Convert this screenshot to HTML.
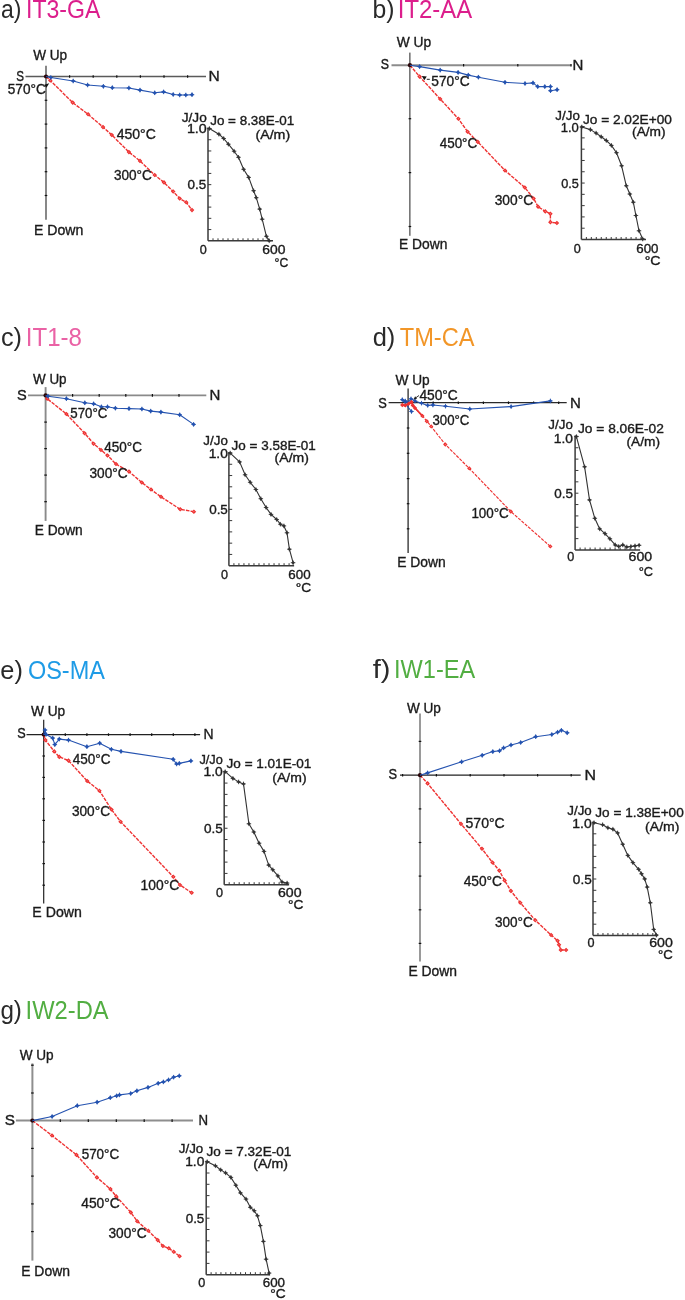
<!DOCTYPE html>
<html><head><meta charset="utf-8"><style>
html,body{margin:0;padding:0;background:#fff;}
svg{display:block;will-change:transform;}
text{font-family:"Liberation Sans",sans-serif;}
</style></head><body>
<svg width="685" height="1300" viewBox="0 0 685 1300">
<rect width="685" height="1300" fill="#fff"/>
<text x="0.93" y="17.5" font-size="25.5" fill="#2a2a2a" textLength="20.4" lengthAdjust="spacingAndGlyphs">a)</text>
<text x="25.97" y="17.5" font-size="25.5" fill="#dc1e8c" textLength="74.37" lengthAdjust="spacingAndGlyphs">IT3-GA</text>
<line x1="25.5" y1="76.5" x2="206" y2="76.5" stroke="#5a5a5a" stroke-width="1.5"/>
<line x1="46" y1="65.7" x2="46" y2="219.7" stroke="#6a6a6a" stroke-width="1.6"/>
<line x1="69.6" y1="75.2" x2="69.6" y2="77.8" stroke="#111" stroke-width="1.2"/>
<line x1="93.2" y1="75.2" x2="93.2" y2="77.8" stroke="#111" stroke-width="1.2"/>
<line x1="116.8" y1="75.2" x2="116.8" y2="77.8" stroke="#111" stroke-width="1.2"/>
<line x1="140.4" y1="75.2" x2="140.4" y2="77.8" stroke="#111" stroke-width="1.2"/>
<line x1="164" y1="75.2" x2="164" y2="77.8" stroke="#111" stroke-width="1.2"/>
<line x1="187.6" y1="75.2" x2="187.6" y2="77.8" stroke="#111" stroke-width="1.2"/>
<line x1="44.7" y1="100.3" x2="47.3" y2="100.3" stroke="#111" stroke-width="1.2"/>
<line x1="44.7" y1="124.1" x2="47.3" y2="124.1" stroke="#111" stroke-width="1.2"/>
<line x1="44.7" y1="147.9" x2="47.3" y2="147.9" stroke="#111" stroke-width="1.2"/>
<line x1="44.7" y1="171.7" x2="47.3" y2="171.7" stroke="#111" stroke-width="1.2"/>
<line x1="44.7" y1="195.5" x2="47.3" y2="195.5" stroke="#111" stroke-width="1.2"/>
<text x="33.14" y="60.4" font-size="14" fill="#1a1a1a" textLength="33.93" lengthAdjust="spacingAndGlyphs" stroke="#1a1a1a" stroke-width="0.35">W Up</text>
<text x="16.37" y="81" font-size="14" fill="#1a1a1a" textLength="7.76" lengthAdjust="spacingAndGlyphs" stroke="#1a1a1a" stroke-width="0.35">S</text>
<text x="208.62" y="81.4" font-size="14" fill="#1a1a1a" textLength="11.25" lengthAdjust="spacingAndGlyphs" stroke="#1a1a1a" stroke-width="0.35">N</text>
<text x="33.94" y="235" font-size="14" fill="#1a1a1a" textLength="49.37" lengthAdjust="spacingAndGlyphs" stroke="#1a1a1a" stroke-width="0.35">E Down</text>
<polyline points="46,76.5 50.3,80.5 72.7,102.6 88.1,114.3 103,127.1 111.8,135 128.9,152.1 140,160.9 154.7,175 164,182.4 173.2,191.5 179.7,198.5 186.2,202.2 192,210.1" fill="none" stroke="#ee3232" stroke-width="1.4" stroke-linejoin="round" stroke-dasharray="3.6 1.1"/>
<path d="M50.3 78.2l2.3 2.3l-2.3 2.3l-2.3 -2.3zM72.7 100.3l2.3 2.3l-2.3 2.3l-2.3 -2.3zM88.1 112l2.3 2.3l-2.3 2.3l-2.3 -2.3zM103 124.8l2.3 2.3l-2.3 2.3l-2.3 -2.3zM111.8 132.7l2.3 2.3l-2.3 2.3l-2.3 -2.3zM128.9 149.8l2.3 2.3l-2.3 2.3l-2.3 -2.3zM140 158.6l2.3 2.3l-2.3 2.3l-2.3 -2.3zM154.7 172.7l2.3 2.3l-2.3 2.3l-2.3 -2.3zM164 180.1l2.3 2.3l-2.3 2.3l-2.3 -2.3zM173.2 189.2l2.3 2.3l-2.3 2.3l-2.3 -2.3zM179.7 196.2l2.3 2.3l-2.3 2.3l-2.3 -2.3zM186.2 199.9l2.3 2.3l-2.3 2.3l-2.3 -2.3zM192 207.8l2.3 2.3l-2.3 2.3l-2.3 -2.3z" fill="#ee3232"/>
<path d="M50.3 79.9l0.6 0.6l-0.6 0.6l-0.6 -0.6zM72.7 102l0.6 0.6l-0.6 0.6l-0.6 -0.6zM88.1 113.7l0.6 0.6l-0.6 0.6l-0.6 -0.6zM103 126.5l0.6 0.6l-0.6 0.6l-0.6 -0.6zM111.8 134.4l0.6 0.6l-0.6 0.6l-0.6 -0.6zM128.9 151.5l0.6 0.6l-0.6 0.6l-0.6 -0.6zM140 160.3l0.6 0.6l-0.6 0.6l-0.6 -0.6zM154.7 174.4l0.6 0.6l-0.6 0.6l-0.6 -0.6zM164 181.8l0.6 0.6l-0.6 0.6l-0.6 -0.6zM173.2 190.9l0.6 0.6l-0.6 0.6l-0.6 -0.6zM179.7 197.9l0.6 0.6l-0.6 0.6l-0.6 -0.6zM186.2 201.6l0.6 0.6l-0.6 0.6l-0.6 -0.6zM192 209.5l0.6 0.6l-0.6 0.6l-0.6 -0.6z" fill="#f59a9a"/>
<circle cx="46" cy="76.5" r="2.1" fill="#2a0508"/>
<polyline points="46,76.5 50.8,77.5 73.2,81 87.6,85 103.4,86.3 112.3,87.7 128.9,88 140,90.1 154.7,92.8 163.6,91.9 173.2,94.5 179.7,95 185.8,95 192,94.7" fill="none" stroke="#2553b0" stroke-width="1.1" stroke-linejoin="round"/>
<path d="M50.8 75.4l2.1 2.1l-2.1 2.1l-2.1 -2.1zM73.2 78.9l2.1 2.1l-2.1 2.1l-2.1 -2.1zM87.6 82.9l2.1 2.1l-2.1 2.1l-2.1 -2.1zM103.4 84.2l2.1 2.1l-2.1 2.1l-2.1 -2.1zM112.3 85.6l2.1 2.1l-2.1 2.1l-2.1 -2.1zM128.9 85.9l2.1 2.1l-2.1 2.1l-2.1 -2.1zM140 88l2.1 2.1l-2.1 2.1l-2.1 -2.1zM154.7 90.7l2.1 2.1l-2.1 2.1l-2.1 -2.1zM163.6 89.8l2.1 2.1l-2.1 2.1l-2.1 -2.1zM173.2 92.4l2.1 2.1l-2.1 2.1l-2.1 -2.1zM179.7 92.9l2.1 2.1l-2.1 2.1l-2.1 -2.1zM185.8 92.9l2.1 2.1l-2.1 2.1l-2.1 -2.1zM192 92.6l2.1 2.1l-2.1 2.1l-2.1 -2.1z" fill="#2553b0"/>
<path d="M48.5 77.5h4.6M50.8 75.2v4.6M70.9 81h4.6M73.2 78.7v4.6M85.3 85h4.6M87.6 82.7v4.6M101.1 86.3h4.6M103.4 84v4.6M110 87.7h4.6M112.3 85.4v4.6M126.6 88h4.6M128.9 85.7v4.6M137.7 90.1h4.6M140 87.8v4.6M152.4 92.8h4.6M154.7 90.5v4.6M161.3 91.9h4.6M163.6 89.6v4.6M170.9 94.5h4.6M173.2 92.2v4.6M177.4 95h4.6M179.7 92.7v4.6M183.5 95h4.6M185.8 92.7v4.6M189.7 94.7h4.6M192 92.4v4.6" stroke="#2553b0" stroke-width="0.8" fill="none"/>
<text x="7.76" y="93.62" font-size="14" fill="#1a1a1a" textLength="37.96" lengthAdjust="spacingAndGlyphs" stroke="#1a1a1a" stroke-width="0.35">570°C</text>
<path d="M44.4 84.8L49.2 83.2L46.4 87.8Z" fill="#111"/>
<text x="116.68" y="139.32" font-size="14" fill="#1a1a1a" textLength="39.16" lengthAdjust="spacingAndGlyphs" stroke="#1a1a1a" stroke-width="0.35">450°C</text>
<text x="113.88" y="180.42" font-size="14" fill="#1a1a1a" textLength="37.94" lengthAdjust="spacingAndGlyphs" stroke="#1a1a1a" stroke-width="0.35">300°C</text>
<line x1="208" y1="127.5" x2="208" y2="240.8" stroke="#3a3a3a" stroke-width="1.5"/>
<line x1="208" y1="240.8" x2="273" y2="240.8" stroke="#3a3a3a" stroke-width="1.5"/>
<line x1="208" y1="229.57" x2="211.3" y2="229.57" stroke="#3a3a3a" stroke-width="1"/>
<line x1="208" y1="218.34" x2="211.3" y2="218.34" stroke="#3a3a3a" stroke-width="1"/>
<line x1="208" y1="207.11" x2="211.3" y2="207.11" stroke="#3a3a3a" stroke-width="1"/>
<line x1="208" y1="195.88" x2="211.3" y2="195.88" stroke="#3a3a3a" stroke-width="1"/>
<line x1="208" y1="184.65" x2="211.3" y2="184.65" stroke="#3a3a3a" stroke-width="1"/>
<line x1="208" y1="173.42" x2="211.3" y2="173.42" stroke="#3a3a3a" stroke-width="1"/>
<line x1="208" y1="162.19" x2="211.3" y2="162.19" stroke="#3a3a3a" stroke-width="1"/>
<line x1="208" y1="150.96" x2="211.3" y2="150.96" stroke="#3a3a3a" stroke-width="1"/>
<line x1="208" y1="139.73" x2="211.3" y2="139.73" stroke="#3a3a3a" stroke-width="1"/>
<line x1="208" y1="128.5" x2="211.3" y2="128.5" stroke="#3a3a3a" stroke-width="1"/>
<line x1="213" y1="240.8" x2="213" y2="238.3" stroke="#3a3a3a" stroke-width="1"/>
<line x1="218" y1="240.8" x2="218" y2="238.3" stroke="#3a3a3a" stroke-width="1"/>
<line x1="223" y1="240.8" x2="223" y2="238.3" stroke="#3a3a3a" stroke-width="1"/>
<line x1="228" y1="240.8" x2="228" y2="238.3" stroke="#3a3a3a" stroke-width="1"/>
<line x1="233" y1="240.8" x2="233" y2="238.3" stroke="#3a3a3a" stroke-width="1"/>
<line x1="238" y1="240.8" x2="238" y2="238.3" stroke="#3a3a3a" stroke-width="1"/>
<line x1="243" y1="240.8" x2="243" y2="238.3" stroke="#3a3a3a" stroke-width="1"/>
<line x1="248" y1="240.8" x2="248" y2="238.3" stroke="#3a3a3a" stroke-width="1"/>
<line x1="253" y1="240.8" x2="253" y2="238.3" stroke="#3a3a3a" stroke-width="1"/>
<line x1="258" y1="240.8" x2="258" y2="238.3" stroke="#3a3a3a" stroke-width="1"/>
<line x1="263" y1="240.8" x2="263" y2="238.3" stroke="#3a3a3a" stroke-width="1"/>
<line x1="268" y1="240.8" x2="268" y2="238.3" stroke="#3a3a3a" stroke-width="1"/>
<polyline points="209.4,128.5 218.9,134.2 223.7,138.5 228.4,144.2 234.1,151.2 238.5,157.3 243.6,169.3 248.7,177.4 253.6,190.7 256.3,197.7 259.7,209.1 262.2,219.2 266.4,236.3 269.2,240.8" fill="none" stroke="#333333" stroke-width="1.1" stroke-linejoin="round"/>
<path d="M209.4 126.7l1.8 1.8l-1.8 1.8l-1.8 -1.8zM218.9 132.4l1.8 1.8l-1.8 1.8l-1.8 -1.8zM223.7 136.7l1.8 1.8l-1.8 1.8l-1.8 -1.8zM228.4 142.4l1.8 1.8l-1.8 1.8l-1.8 -1.8zM234.1 149.4l1.8 1.8l-1.8 1.8l-1.8 -1.8zM238.5 155.5l1.8 1.8l-1.8 1.8l-1.8 -1.8zM243.6 167.5l1.8 1.8l-1.8 1.8l-1.8 -1.8zM248.7 175.6l1.8 1.8l-1.8 1.8l-1.8 -1.8zM253.6 188.9l1.8 1.8l-1.8 1.8l-1.8 -1.8zM256.3 195.9l1.8 1.8l-1.8 1.8l-1.8 -1.8zM259.7 207.3l1.8 1.8l-1.8 1.8l-1.8 -1.8zM262.2 217.4l1.8 1.8l-1.8 1.8l-1.8 -1.8zM266.4 234.5l1.8 1.8l-1.8 1.8l-1.8 -1.8zM269.2 239l1.8 1.8l-1.8 1.8l-1.8 -1.8z" fill="#333333"/>
<path d="M207.1 128.5h4.6M209.4 126.2v4.6M216.6 134.2h4.6M218.9 131.9v4.6M221.4 138.5h4.6M223.7 136.2v4.6M226.1 144.2h4.6M228.4 141.9v4.6M231.8 151.2h4.6M234.1 148.9v4.6M236.2 157.3h4.6M238.5 155v4.6M241.3 169.3h4.6M243.6 167v4.6M246.4 177.4h4.6M248.7 175.1v4.6M251.3 190.7h4.6M253.6 188.4v4.6M254 197.7h4.6M256.3 195.4v4.6M257.4 209.1h4.6M259.7 206.8v4.6M259.9 219.2h4.6M262.2 216.9v4.6M264.1 236.3h4.6M266.4 234v4.6M266.9 240.8h4.6M269.2 238.5v4.6" stroke="#333333" stroke-width="0.8" fill="none"/>
<text x="181.69" y="121.83" font-size="12.6" fill="#1a1a1a" textLength="25.09" lengthAdjust="spacingAndGlyphs" stroke="#1a1a1a" stroke-width="0.35">J/Jo</text>
<text x="210.19" y="125.33" font-size="12.6" fill="#1a1a1a" textLength="83.97" lengthAdjust="spacingAndGlyphs" stroke="#1a1a1a" stroke-width="0.35">Jo = 8.38E-01</text>
<text x="255.42" y="139.43" font-size="12.6" fill="#1a1a1a" textLength="34.76" lengthAdjust="spacingAndGlyphs" stroke="#1a1a1a" stroke-width="0.35">(A/m)</text>
<text x="186.91" y="132.83" font-size="12.6" fill="#1a1a1a" textLength="19.85" lengthAdjust="spacingAndGlyphs" stroke="#1a1a1a" stroke-width="0.35">1.0</text>
<text x="187.47" y="189.33" font-size="12.6" fill="#1a1a1a" textLength="18.69" lengthAdjust="spacingAndGlyphs" stroke="#1a1a1a" stroke-width="0.35">0.5</text>
<text x="199.7" y="254.33" font-size="12.6" fill="#1a1a1a" stroke="#1a1a1a" stroke-width="0.35">0</text>
<text x="262.3" y="254.33" font-size="12.6" fill="#1a1a1a" textLength="23.15" lengthAdjust="spacingAndGlyphs" stroke="#1a1a1a" stroke-width="0.35">600</text>
<text x="274.57" y="266.63" font-size="12.6" fill="#1a1a1a" textLength="13.69" lengthAdjust="spacingAndGlyphs" stroke="#1a1a1a" stroke-width="0.35">°C</text>
<text x="372.5" y="17.5" font-size="25.5" fill="#2a2a2a" textLength="22.03" lengthAdjust="spacingAndGlyphs">b)</text>
<text x="397.79" y="17.5" font-size="25.5" fill="#dc1e8c" textLength="74.45" lengthAdjust="spacingAndGlyphs">IT2-AA</text>
<line x1="391.5" y1="65.2" x2="571.4" y2="65.2" stroke="#8c8c8c" stroke-width="1.9"/>
<line x1="409.9" y1="52.6" x2="409.9" y2="235.8" stroke="#222" stroke-width="1"/>
<line x1="463.6" y1="63.9" x2="463.6" y2="66.5" stroke="#111" stroke-width="1.2"/>
<line x1="517.8" y1="63.9" x2="517.8" y2="66.5" stroke="#111" stroke-width="1.2"/>
<line x1="571" y1="63.9" x2="571" y2="66.5" stroke="#111" stroke-width="1.2"/>
<line x1="408.6" y1="118.7" x2="411.2" y2="118.7" stroke="#111" stroke-width="1.2"/>
<line x1="408.6" y1="172.6" x2="411.2" y2="172.6" stroke="#111" stroke-width="1.2"/>
<line x1="408.6" y1="226.5" x2="411.2" y2="226.5" stroke="#111" stroke-width="1.2"/>
<text x="396.74" y="47" font-size="14" fill="#1a1a1a" textLength="34.44" lengthAdjust="spacingAndGlyphs" stroke="#1a1a1a" stroke-width="0.35">W Up</text>
<text x="380.84" y="69.2" font-size="14" fill="#1a1a1a" textLength="8.23" lengthAdjust="spacingAndGlyphs" stroke="#1a1a1a" stroke-width="0.35">S</text>
<text x="572.57" y="69.7" font-size="14" fill="#1a1a1a" textLength="10.86" lengthAdjust="spacingAndGlyphs" stroke="#1a1a1a" stroke-width="0.35">N</text>
<text x="398.97" y="248.5" font-size="14" fill="#1a1a1a" textLength="48.43" lengthAdjust="spacingAndGlyphs" stroke="#1a1a1a" stroke-width="0.35">E Down</text>
<polyline points="409.9,65.2 419.6,76.6 440.2,99 458.4,118.8 467.6,131.7 477.8,141.9 505,170.5 524.8,187.5 533.6,198.5 538.1,206.7 545.3,211.4 550.4,213.8 550.4,222.2 556.9,223" fill="none" stroke="#ee3232" stroke-width="1.4" stroke-linejoin="round" stroke-dasharray="3.6 1.1"/>
<path d="M419.6 74.3l2.3 2.3l-2.3 2.3l-2.3 -2.3zM440.2 96.7l2.3 2.3l-2.3 2.3l-2.3 -2.3zM458.4 116.5l2.3 2.3l-2.3 2.3l-2.3 -2.3zM467.6 129.4l2.3 2.3l-2.3 2.3l-2.3 -2.3zM477.8 139.6l2.3 2.3l-2.3 2.3l-2.3 -2.3zM505 168.2l2.3 2.3l-2.3 2.3l-2.3 -2.3zM524.8 185.2l2.3 2.3l-2.3 2.3l-2.3 -2.3zM533.6 196.2l2.3 2.3l-2.3 2.3l-2.3 -2.3zM538.1 204.4l2.3 2.3l-2.3 2.3l-2.3 -2.3zM545.3 209.1l2.3 2.3l-2.3 2.3l-2.3 -2.3zM550.4 211.5l2.3 2.3l-2.3 2.3l-2.3 -2.3zM550.4 219.9l2.3 2.3l-2.3 2.3l-2.3 -2.3zM556.9 220.7l2.3 2.3l-2.3 2.3l-2.3 -2.3z" fill="#ee3232"/>
<path d="M419.6 76l0.6 0.6l-0.6 0.6l-0.6 -0.6zM440.2 98.4l0.6 0.6l-0.6 0.6l-0.6 -0.6zM458.4 118.2l0.6 0.6l-0.6 0.6l-0.6 -0.6zM467.6 131.1l0.6 0.6l-0.6 0.6l-0.6 -0.6zM477.8 141.3l0.6 0.6l-0.6 0.6l-0.6 -0.6zM505 169.9l0.6 0.6l-0.6 0.6l-0.6 -0.6zM524.8 186.9l0.6 0.6l-0.6 0.6l-0.6 -0.6zM533.6 197.9l0.6 0.6l-0.6 0.6l-0.6 -0.6zM538.1 206.1l0.6 0.6l-0.6 0.6l-0.6 -0.6zM545.3 210.8l0.6 0.6l-0.6 0.6l-0.6 -0.6zM550.4 213.2l0.6 0.6l-0.6 0.6l-0.6 -0.6zM550.4 221.6l0.6 0.6l-0.6 0.6l-0.6 -0.6zM556.9 222.4l0.6 0.6l-0.6 0.6l-0.6 -0.6z" fill="#f59a9a"/>
<circle cx="409.9" cy="65.2" r="2.1" fill="#2a0508"/>
<polyline points="409.9,65.2 419.6,66.6 440.2,70.1 458.1,72.4 468.3,75.1 478.4,77.2 505,82.3 525,83.5 533,82.9 537.7,86.6 544.8,86.6 550.5,86.6 550.5,90.7 557.1,89.7" fill="none" stroke="#2553b0" stroke-width="1.1" stroke-linejoin="round"/>
<path d="M419.6 64.5l2.1 2.1l-2.1 2.1l-2.1 -2.1zM440.2 68l2.1 2.1l-2.1 2.1l-2.1 -2.1zM458.1 70.3l2.1 2.1l-2.1 2.1l-2.1 -2.1zM468.3 73l2.1 2.1l-2.1 2.1l-2.1 -2.1zM478.4 75.1l2.1 2.1l-2.1 2.1l-2.1 -2.1zM505 80.2l2.1 2.1l-2.1 2.1l-2.1 -2.1zM525 81.4l2.1 2.1l-2.1 2.1l-2.1 -2.1zM533 80.8l2.1 2.1l-2.1 2.1l-2.1 -2.1zM537.7 84.5l2.1 2.1l-2.1 2.1l-2.1 -2.1zM544.8 84.5l2.1 2.1l-2.1 2.1l-2.1 -2.1zM550.5 84.5l2.1 2.1l-2.1 2.1l-2.1 -2.1zM550.5 88.6l2.1 2.1l-2.1 2.1l-2.1 -2.1zM557.1 87.6l2.1 2.1l-2.1 2.1l-2.1 -2.1z" fill="#2553b0"/>
<path d="M417.3 66.6h4.6M419.6 64.3v4.6M437.9 70.1h4.6M440.2 67.8v4.6M455.8 72.4h4.6M458.1 70.1v4.6M466 75.1h4.6M468.3 72.8v4.6M476.1 77.2h4.6M478.4 74.9v4.6M502.7 82.3h4.6M505 80v4.6M522.7 83.5h4.6M525 81.2v4.6M530.7 82.9h4.6M533 80.6v4.6M535.4 86.6h4.6M537.7 84.3v4.6M542.5 86.6h4.6M544.8 84.3v4.6M548.2 86.6h4.6M550.5 84.3v4.6M548.2 90.7h4.6M550.5 88.4v4.6M554.8 89.7h4.6M557.1 87.4v4.6" stroke="#2553b0" stroke-width="0.8" fill="none"/>
<text x="431.25" y="85.52" font-size="14" fill="#1a1a1a" textLength="38.37" lengthAdjust="spacingAndGlyphs" stroke="#1a1a1a" stroke-width="0.35">570°C</text>
<path d="M421.8 76.1L426.8 76.6L424.3 80.2Z" fill="#111"/>
<line x1="426.8" y1="79.3" x2="429.8" y2="79.3" stroke="#222" stroke-width="1"/>
<text x="439.69" y="148.32" font-size="14" fill="#1a1a1a" textLength="37.52" lengthAdjust="spacingAndGlyphs" stroke="#1a1a1a" stroke-width="0.35">450°C</text>
<text x="494.68" y="204.92" font-size="14" fill="#1a1a1a" textLength="38.45" lengthAdjust="spacingAndGlyphs" stroke="#1a1a1a" stroke-width="0.35">300°C</text>
<line x1="581.4" y1="125.6" x2="581.4" y2="239.5" stroke="#3a3a3a" stroke-width="1.5"/>
<line x1="581.4" y1="239.5" x2="646" y2="239.5" stroke="#3a3a3a" stroke-width="1.5"/>
<line x1="581.4" y1="228.21" x2="584.7" y2="228.21" stroke="#3a3a3a" stroke-width="1"/>
<line x1="581.4" y1="216.92" x2="584.7" y2="216.92" stroke="#3a3a3a" stroke-width="1"/>
<line x1="581.4" y1="205.63" x2="584.7" y2="205.63" stroke="#3a3a3a" stroke-width="1"/>
<line x1="581.4" y1="194.34" x2="584.7" y2="194.34" stroke="#3a3a3a" stroke-width="1"/>
<line x1="581.4" y1="183.05" x2="584.7" y2="183.05" stroke="#3a3a3a" stroke-width="1"/>
<line x1="581.4" y1="171.76" x2="584.7" y2="171.76" stroke="#3a3a3a" stroke-width="1"/>
<line x1="581.4" y1="160.47" x2="584.7" y2="160.47" stroke="#3a3a3a" stroke-width="1"/>
<line x1="581.4" y1="149.18" x2="584.7" y2="149.18" stroke="#3a3a3a" stroke-width="1"/>
<line x1="581.4" y1="137.89" x2="584.7" y2="137.89" stroke="#3a3a3a" stroke-width="1"/>
<line x1="581.4" y1="126.6" x2="584.7" y2="126.6" stroke="#3a3a3a" stroke-width="1"/>
<line x1="586.37" y1="239.5" x2="586.37" y2="237" stroke="#3a3a3a" stroke-width="1"/>
<line x1="591.34" y1="239.5" x2="591.34" y2="237" stroke="#3a3a3a" stroke-width="1"/>
<line x1="596.31" y1="239.5" x2="596.31" y2="237" stroke="#3a3a3a" stroke-width="1"/>
<line x1="601.28" y1="239.5" x2="601.28" y2="237" stroke="#3a3a3a" stroke-width="1"/>
<line x1="606.25" y1="239.5" x2="606.25" y2="237" stroke="#3a3a3a" stroke-width="1"/>
<line x1="611.22" y1="239.5" x2="611.22" y2="237" stroke="#3a3a3a" stroke-width="1"/>
<line x1="616.18" y1="239.5" x2="616.18" y2="237" stroke="#3a3a3a" stroke-width="1"/>
<line x1="621.15" y1="239.5" x2="621.15" y2="237" stroke="#3a3a3a" stroke-width="1"/>
<line x1="626.12" y1="239.5" x2="626.12" y2="237" stroke="#3a3a3a" stroke-width="1"/>
<line x1="631.09" y1="239.5" x2="631.09" y2="237" stroke="#3a3a3a" stroke-width="1"/>
<line x1="636.06" y1="239.5" x2="636.06" y2="237" stroke="#3a3a3a" stroke-width="1"/>
<line x1="641.03" y1="239.5" x2="641.03" y2="237" stroke="#3a3a3a" stroke-width="1"/>
<polyline points="581.8,127 590.4,129.6 596.1,133.1 601.2,136.8 606.3,140.5 611.4,145.4 616.5,152.7 621.6,165.8 626.3,185.8 629.8,194 633.3,202.2 635.9,215.5 639,230.8 642.7,239" fill="none" stroke="#333333" stroke-width="1.1" stroke-linejoin="round"/>
<path d="M581.8 125.2l1.8 1.8l-1.8 1.8l-1.8 -1.8zM590.4 127.8l1.8 1.8l-1.8 1.8l-1.8 -1.8zM596.1 131.3l1.8 1.8l-1.8 1.8l-1.8 -1.8zM601.2 135l1.8 1.8l-1.8 1.8l-1.8 -1.8zM606.3 138.7l1.8 1.8l-1.8 1.8l-1.8 -1.8zM611.4 143.6l1.8 1.8l-1.8 1.8l-1.8 -1.8zM616.5 150.9l1.8 1.8l-1.8 1.8l-1.8 -1.8zM621.6 164l1.8 1.8l-1.8 1.8l-1.8 -1.8zM626.3 184l1.8 1.8l-1.8 1.8l-1.8 -1.8zM629.8 192.2l1.8 1.8l-1.8 1.8l-1.8 -1.8zM633.3 200.4l1.8 1.8l-1.8 1.8l-1.8 -1.8zM635.9 213.7l1.8 1.8l-1.8 1.8l-1.8 -1.8zM639 229l1.8 1.8l-1.8 1.8l-1.8 -1.8zM642.7 237.2l1.8 1.8l-1.8 1.8l-1.8 -1.8z" fill="#333333"/>
<path d="M579.5 127h4.6M581.8 124.7v4.6M588.1 129.6h4.6M590.4 127.3v4.6M593.8 133.1h4.6M596.1 130.8v4.6M598.9 136.8h4.6M601.2 134.5v4.6M604 140.5h4.6M606.3 138.2v4.6M609.1 145.4h4.6M611.4 143.1v4.6M614.2 152.7h4.6M616.5 150.4v4.6M619.3 165.8h4.6M621.6 163.5v4.6M624 185.8h4.6M626.3 183.5v4.6M627.5 194h4.6M629.8 191.7v4.6M631 202.2h4.6M633.3 199.9v4.6M633.6 215.5h4.6M635.9 213.2v4.6M636.7 230.8h4.6M639 228.5v4.6M640.4 239h4.6M642.7 236.7v4.6" stroke="#333333" stroke-width="0.8" fill="none"/>
<text x="555.39" y="119.63" font-size="12.6" fill="#1a1a1a" textLength="24.47" lengthAdjust="spacingAndGlyphs" stroke="#1a1a1a" stroke-width="0.35">J/Jo</text>
<text x="582.99" y="124.13" font-size="12.6" fill="#1a1a1a" textLength="88.85" lengthAdjust="spacingAndGlyphs" stroke="#1a1a1a" stroke-width="0.35">Jo = 2.02E+00</text>
<text x="632.05" y="136.03" font-size="12.6" fill="#1a1a1a" textLength="33.61" lengthAdjust="spacingAndGlyphs" stroke="#1a1a1a" stroke-width="0.35">(A/m)</text>
<text x="560.71" y="131.93" font-size="12.6" fill="#1a1a1a" textLength="18.1" lengthAdjust="spacingAndGlyphs" stroke="#1a1a1a" stroke-width="0.35">1.0</text>
<text x="561.2" y="187.73" font-size="12.6" fill="#1a1a1a" textLength="17.63" lengthAdjust="spacingAndGlyphs" stroke="#1a1a1a" stroke-width="0.35">0.5</text>
<text x="573.8" y="252.53" font-size="12.6" fill="#1a1a1a" stroke="#1a1a1a" stroke-width="0.35">0</text>
<text x="636.32" y="252.53" font-size="12.6" fill="#1a1a1a" textLength="22.2" lengthAdjust="spacingAndGlyphs" stroke="#1a1a1a" stroke-width="0.35">600</text>
<text x="644.65" y="264.73" font-size="12.6" fill="#1a1a1a" textLength="15.99" lengthAdjust="spacingAndGlyphs" stroke="#1a1a1a" stroke-width="0.35">°C</text>
<text x="0.93" y="345.5" font-size="25.5" fill="#2a2a2a" textLength="21.04" lengthAdjust="spacingAndGlyphs">c)</text>
<text x="25.78" y="345.5" font-size="25.5" fill="#ea62a5" textLength="56.17" lengthAdjust="spacingAndGlyphs">IT1-8</text>
<line x1="28" y1="395.4" x2="206.3" y2="395.4" stroke="#8a8a8a" stroke-width="1.9"/>
<line x1="45.6" y1="387.1" x2="45.6" y2="520.9" stroke="#8a8a8a" stroke-width="1.9"/>
<line x1="72.6" y1="394.1" x2="72.6" y2="396.7" stroke="#111" stroke-width="1.2"/>
<line x1="99.2" y1="394.1" x2="99.2" y2="396.7" stroke="#111" stroke-width="1.2"/>
<line x1="125.8" y1="394.1" x2="125.8" y2="396.7" stroke="#111" stroke-width="1.2"/>
<line x1="152.4" y1="394.1" x2="152.4" y2="396.7" stroke="#111" stroke-width="1.2"/>
<line x1="179" y1="394.1" x2="179" y2="396.7" stroke="#111" stroke-width="1.2"/>
<line x1="44.3" y1="422.1" x2="46.9" y2="422.1" stroke="#111" stroke-width="1.2"/>
<line x1="44.3" y1="448.6" x2="46.9" y2="448.6" stroke="#111" stroke-width="1.2"/>
<line x1="44.3" y1="475.1" x2="46.9" y2="475.1" stroke="#111" stroke-width="1.2"/>
<line x1="44.3" y1="501.7" x2="46.9" y2="501.7" stroke="#111" stroke-width="1.2"/>
<text x="33.04" y="383.8" font-size="14" fill="#1a1a1a" textLength="33.52" lengthAdjust="spacingAndGlyphs" stroke="#1a1a1a" stroke-width="0.35">W Up</text>
<text x="17.14" y="400.3" font-size="14" fill="#1a1a1a" textLength="9.73" lengthAdjust="spacingAndGlyphs" stroke="#1a1a1a" stroke-width="0.35">S</text>
<text x="209.57" y="400.1" font-size="14" fill="#1a1a1a" textLength="10.86" lengthAdjust="spacingAndGlyphs" stroke="#1a1a1a" stroke-width="0.35">N</text>
<text x="34.68" y="534.8" font-size="14" fill="#1a1a1a" textLength="48.02" lengthAdjust="spacingAndGlyphs" stroke="#1a1a1a" stroke-width="0.35">E Down</text>
<polyline points="45.6,395.4 47.2,398.7 66.4,414 84.6,433.2 93.6,443.7 101,450 107.5,455.5 116,464 129,471.6 141.8,482.5 151,489.5 161,496.8 180.2,509.3 193.9,511.7" fill="none" stroke="#ee3232" stroke-width="1.4" stroke-linejoin="round" stroke-dasharray="3.6 1.1"/>
<path d="M47.2 396.4l2.3 2.3l-2.3 2.3l-2.3 -2.3zM66.4 411.7l2.3 2.3l-2.3 2.3l-2.3 -2.3zM84.6 430.9l2.3 2.3l-2.3 2.3l-2.3 -2.3zM93.6 441.4l2.3 2.3l-2.3 2.3l-2.3 -2.3zM101 447.7l2.3 2.3l-2.3 2.3l-2.3 -2.3zM107.5 453.2l2.3 2.3l-2.3 2.3l-2.3 -2.3zM116 461.7l2.3 2.3l-2.3 2.3l-2.3 -2.3zM129 469.3l2.3 2.3l-2.3 2.3l-2.3 -2.3zM141.8 480.2l2.3 2.3l-2.3 2.3l-2.3 -2.3zM151 487.2l2.3 2.3l-2.3 2.3l-2.3 -2.3zM161 494.5l2.3 2.3l-2.3 2.3l-2.3 -2.3zM180.2 507l2.3 2.3l-2.3 2.3l-2.3 -2.3zM193.9 509.4l2.3 2.3l-2.3 2.3l-2.3 -2.3z" fill="#ee3232"/>
<path d="M47.2 398.1l0.6 0.6l-0.6 0.6l-0.6 -0.6zM66.4 413.4l0.6 0.6l-0.6 0.6l-0.6 -0.6zM84.6 432.6l0.6 0.6l-0.6 0.6l-0.6 -0.6zM93.6 443.1l0.6 0.6l-0.6 0.6l-0.6 -0.6zM101 449.4l0.6 0.6l-0.6 0.6l-0.6 -0.6zM107.5 454.9l0.6 0.6l-0.6 0.6l-0.6 -0.6zM116 463.4l0.6 0.6l-0.6 0.6l-0.6 -0.6zM129 471l0.6 0.6l-0.6 0.6l-0.6 -0.6zM141.8 481.9l0.6 0.6l-0.6 0.6l-0.6 -0.6zM151 488.9l0.6 0.6l-0.6 0.6l-0.6 -0.6zM161 496.2l0.6 0.6l-0.6 0.6l-0.6 -0.6zM180.2 508.7l0.6 0.6l-0.6 0.6l-0.6 -0.6zM193.9 511.1l0.6 0.6l-0.6 0.6l-0.6 -0.6z" fill="#f59a9a"/>
<circle cx="45.6" cy="395.4" r="2.1" fill="#2a0508"/>
<polyline points="45.6,395.4 48,396.2 66.4,398.7 84.8,402.8 93.6,403.8 101.4,406.8 107.5,406.8 115.4,408.2 129,408.6 141.9,409 150.7,411.1 160.9,412.1 179.7,414.8 193.6,424.4" fill="none" stroke="#2553b0" stroke-width="1.1" stroke-linejoin="round"/>
<path d="M48 394.1l2.1 2.1l-2.1 2.1l-2.1 -2.1zM66.4 396.6l2.1 2.1l-2.1 2.1l-2.1 -2.1zM84.8 400.7l2.1 2.1l-2.1 2.1l-2.1 -2.1zM93.6 401.7l2.1 2.1l-2.1 2.1l-2.1 -2.1zM101.4 404.7l2.1 2.1l-2.1 2.1l-2.1 -2.1zM107.5 404.7l2.1 2.1l-2.1 2.1l-2.1 -2.1zM115.4 406.1l2.1 2.1l-2.1 2.1l-2.1 -2.1zM129 406.5l2.1 2.1l-2.1 2.1l-2.1 -2.1zM141.9 406.9l2.1 2.1l-2.1 2.1l-2.1 -2.1zM150.7 409l2.1 2.1l-2.1 2.1l-2.1 -2.1zM160.9 410l2.1 2.1l-2.1 2.1l-2.1 -2.1zM179.7 412.7l2.1 2.1l-2.1 2.1l-2.1 -2.1zM193.6 422.3l2.1 2.1l-2.1 2.1l-2.1 -2.1z" fill="#2553b0"/>
<path d="M45.7 396.2h4.6M48 393.9v4.6M64.1 398.7h4.6M66.4 396.4v4.6M82.5 402.8h4.6M84.8 400.5v4.6M91.3 403.8h4.6M93.6 401.5v4.6M99.1 406.8h4.6M101.4 404.5v4.6M105.2 406.8h4.6M107.5 404.5v4.6M113.1 408.2h4.6M115.4 405.9v4.6M126.7 408.6h4.6M129 406.3v4.6M139.6 409h4.6M141.9 406.7v4.6M148.4 411.1h4.6M150.7 408.8v4.6M158.6 412.1h4.6M160.9 409.8v4.6M177.4 414.8h4.6M179.7 412.5v4.6M191.3 424.4h4.6M193.6 422.1v4.6" stroke="#2553b0" stroke-width="0.8" fill="none"/>
<text x="70.37" y="418.42" font-size="14" fill="#1a1a1a" textLength="37.04" lengthAdjust="spacingAndGlyphs" stroke="#1a1a1a" stroke-width="0.35">570°C</text>
<text x="104.29" y="451.82" font-size="14" fill="#1a1a1a" textLength="37.73" lengthAdjust="spacingAndGlyphs" stroke="#1a1a1a" stroke-width="0.35">450°C</text>
<text x="89.48" y="478.42" font-size="14" fill="#1a1a1a" textLength="38.14" lengthAdjust="spacingAndGlyphs" stroke="#1a1a1a" stroke-width="0.35">300°C</text>
<line x1="228.9" y1="452" x2="228.9" y2="565.7" stroke="#3a3a3a" stroke-width="1.5"/>
<line x1="228.9" y1="565.7" x2="294.1" y2="565.7" stroke="#3a3a3a" stroke-width="1.5"/>
<line x1="228.9" y1="554.43" x2="232.2" y2="554.43" stroke="#3a3a3a" stroke-width="1"/>
<line x1="228.9" y1="543.16" x2="232.2" y2="543.16" stroke="#3a3a3a" stroke-width="1"/>
<line x1="228.9" y1="531.89" x2="232.2" y2="531.89" stroke="#3a3a3a" stroke-width="1"/>
<line x1="228.9" y1="520.62" x2="232.2" y2="520.62" stroke="#3a3a3a" stroke-width="1"/>
<line x1="228.9" y1="509.35" x2="232.2" y2="509.35" stroke="#3a3a3a" stroke-width="1"/>
<line x1="228.9" y1="498.08" x2="232.2" y2="498.08" stroke="#3a3a3a" stroke-width="1"/>
<line x1="228.9" y1="486.81" x2="232.2" y2="486.81" stroke="#3a3a3a" stroke-width="1"/>
<line x1="228.9" y1="475.54" x2="232.2" y2="475.54" stroke="#3a3a3a" stroke-width="1"/>
<line x1="228.9" y1="464.27" x2="232.2" y2="464.27" stroke="#3a3a3a" stroke-width="1"/>
<line x1="228.9" y1="453" x2="232.2" y2="453" stroke="#3a3a3a" stroke-width="1"/>
<line x1="233.92" y1="565.7" x2="233.92" y2="563.2" stroke="#3a3a3a" stroke-width="1"/>
<line x1="238.93" y1="565.7" x2="238.93" y2="563.2" stroke="#3a3a3a" stroke-width="1"/>
<line x1="243.95" y1="565.7" x2="243.95" y2="563.2" stroke="#3a3a3a" stroke-width="1"/>
<line x1="248.96" y1="565.7" x2="248.96" y2="563.2" stroke="#3a3a3a" stroke-width="1"/>
<line x1="253.98" y1="565.7" x2="253.98" y2="563.2" stroke="#3a3a3a" stroke-width="1"/>
<line x1="258.99" y1="565.7" x2="258.99" y2="563.2" stroke="#3a3a3a" stroke-width="1"/>
<line x1="264.01" y1="565.7" x2="264.01" y2="563.2" stroke="#3a3a3a" stroke-width="1"/>
<line x1="269.02" y1="565.7" x2="269.02" y2="563.2" stroke="#3a3a3a" stroke-width="1"/>
<line x1="274.04" y1="565.7" x2="274.04" y2="563.2" stroke="#3a3a3a" stroke-width="1"/>
<line x1="279.05" y1="565.7" x2="279.05" y2="563.2" stroke="#3a3a3a" stroke-width="1"/>
<line x1="284.07" y1="565.7" x2="284.07" y2="563.2" stroke="#3a3a3a" stroke-width="1"/>
<line x1="289.08" y1="565.7" x2="289.08" y2="563.2" stroke="#3a3a3a" stroke-width="1"/>
<polyline points="230.2,453.1 239.6,461.9 245.1,474.8 250.2,482.3 255.9,489.5 260.8,498.7 266.1,507.5 271,514.4 276.7,519.5 280.4,524.2 283.9,525.9 287,532.8 289.4,549.2 293.1,562.7" fill="none" stroke="#333333" stroke-width="1.1" stroke-linejoin="round"/>
<path d="M230.2 451.3l1.8 1.8l-1.8 1.8l-1.8 -1.8zM239.6 460.1l1.8 1.8l-1.8 1.8l-1.8 -1.8zM245.1 473l1.8 1.8l-1.8 1.8l-1.8 -1.8zM250.2 480.5l1.8 1.8l-1.8 1.8l-1.8 -1.8zM255.9 487.7l1.8 1.8l-1.8 1.8l-1.8 -1.8zM260.8 496.9l1.8 1.8l-1.8 1.8l-1.8 -1.8zM266.1 505.7l1.8 1.8l-1.8 1.8l-1.8 -1.8zM271 512.6l1.8 1.8l-1.8 1.8l-1.8 -1.8zM276.7 517.7l1.8 1.8l-1.8 1.8l-1.8 -1.8zM280.4 522.4l1.8 1.8l-1.8 1.8l-1.8 -1.8zM283.9 524.1l1.8 1.8l-1.8 1.8l-1.8 -1.8zM287 531l1.8 1.8l-1.8 1.8l-1.8 -1.8zM289.4 547.4l1.8 1.8l-1.8 1.8l-1.8 -1.8zM293.1 560.9l1.8 1.8l-1.8 1.8l-1.8 -1.8z" fill="#333333"/>
<path d="M227.9 453.1h4.6M230.2 450.8v4.6M237.3 461.9h4.6M239.6 459.6v4.6M242.8 474.8h4.6M245.1 472.5v4.6M247.9 482.3h4.6M250.2 480v4.6M253.6 489.5h4.6M255.9 487.2v4.6M258.5 498.7h4.6M260.8 496.4v4.6M263.8 507.5h4.6M266.1 505.2v4.6M268.7 514.4h4.6M271 512.1v4.6M274.4 519.5h4.6M276.7 517.2v4.6M278.1 524.2h4.6M280.4 521.9v4.6M281.6 525.9h4.6M283.9 523.6v4.6M284.7 532.8h4.6M287 530.5v4.6M287.1 549.2h4.6M289.4 546.9v4.6M290.8 562.7h4.6M293.1 560.4v4.6" stroke="#333333" stroke-width="0.8" fill="none"/>
<text x="203.39" y="444.53" font-size="12.6" fill="#1a1a1a" textLength="24.47" lengthAdjust="spacingAndGlyphs" stroke="#1a1a1a" stroke-width="0.35">J/Jo</text>
<text x="231.59" y="449.83" font-size="12.6" fill="#1a1a1a" textLength="84.27" lengthAdjust="spacingAndGlyphs" stroke="#1a1a1a" stroke-width="0.35">Jo = 3.58E-01</text>
<text x="274.63" y="462.13" font-size="12.6" fill="#1a1a1a" textLength="34.24" lengthAdjust="spacingAndGlyphs" stroke="#1a1a1a" stroke-width="0.35">(A/m)</text>
<text x="208.65" y="457.73" font-size="12.6" fill="#1a1a1a" textLength="19.19" lengthAdjust="spacingAndGlyphs" stroke="#1a1a1a" stroke-width="0.35">1.0</text>
<text x="209.17" y="513.83" font-size="12.6" fill="#1a1a1a" textLength="18.69" lengthAdjust="spacingAndGlyphs" stroke="#1a1a1a" stroke-width="0.35">0.5</text>
<text x="221.1" y="578.63" font-size="12.6" fill="#1a1a1a" stroke="#1a1a1a" stroke-width="0.35">0</text>
<text x="288.32" y="578.63" font-size="12.6" fill="#1a1a1a" textLength="22.3" lengthAdjust="spacingAndGlyphs" stroke="#1a1a1a" stroke-width="0.35">600</text>
<text x="295.78" y="592.33" font-size="12.6" fill="#1a1a1a" textLength="15.44" lengthAdjust="spacingAndGlyphs" stroke="#1a1a1a" stroke-width="0.35">°C</text>
<text x="372.63" y="345.5" font-size="25.5" fill="#2a2a2a" textLength="22.65" lengthAdjust="spacingAndGlyphs">d)</text>
<text x="399.77" y="345.5" font-size="25.5" fill="#f29628" textLength="74.78" lengthAdjust="spacingAndGlyphs">TM-CA</text>
<line x1="388.6" y1="402.7" x2="566.7" y2="402.7" stroke="#2a2a2a" stroke-width="1.2"/>
<line x1="408.1" y1="388.4" x2="408.1" y2="553" stroke="#2a2a2a" stroke-width="1.3"/>
<line x1="433.2" y1="401.4" x2="433.2" y2="404" stroke="#111" stroke-width="1.2"/>
<line x1="458.3" y1="401.4" x2="458.3" y2="404" stroke="#111" stroke-width="1.2"/>
<line x1="483.4" y1="401.4" x2="483.4" y2="404" stroke="#111" stroke-width="1.2"/>
<line x1="508.5" y1="401.4" x2="508.5" y2="404" stroke="#111" stroke-width="1.2"/>
<line x1="533.6" y1="401.4" x2="533.6" y2="404" stroke="#111" stroke-width="1.2"/>
<line x1="558.7" y1="401.4" x2="558.7" y2="404" stroke="#111" stroke-width="1.2"/>
<line x1="406.8" y1="428" x2="409.4" y2="428" stroke="#111" stroke-width="1.2"/>
<line x1="406.8" y1="453.3" x2="409.4" y2="453.3" stroke="#111" stroke-width="1.2"/>
<line x1="406.8" y1="478.6" x2="409.4" y2="478.6" stroke="#111" stroke-width="1.2"/>
<line x1="406.8" y1="503.7" x2="409.4" y2="503.7" stroke="#111" stroke-width="1.2"/>
<line x1="406.8" y1="528.8" x2="409.4" y2="528.8" stroke="#111" stroke-width="1.2"/>
<text x="395.54" y="385.4" font-size="14" fill="#1a1a1a" textLength="34.13" lengthAdjust="spacingAndGlyphs" stroke="#1a1a1a" stroke-width="0.35">W Up</text>
<text x="378.22" y="408" font-size="14" fill="#1a1a1a" textLength="8.57" lengthAdjust="spacingAndGlyphs" stroke="#1a1a1a" stroke-width="0.35">S</text>
<text x="569.97" y="407.6" font-size="14" fill="#1a1a1a" textLength="10.86" lengthAdjust="spacingAndGlyphs" stroke="#1a1a1a" stroke-width="0.35">N</text>
<text x="397.16" y="567" font-size="14" fill="#1a1a1a" textLength="48.54" lengthAdjust="spacingAndGlyphs" stroke="#1a1a1a" stroke-width="0.35">E Down</text>
<polyline points="550.4,400.9 511.1,406.6 469.8,409 445.5,406.2 432.9,405 427.7,405.4 421.5,403.2 415,401 411,398.8 408.1,402.7 405.3,401 402.3,399.7 411.5,411.5" fill="none" stroke="#2553b0" stroke-width="1.1" stroke-linejoin="round"/>
<path d="M550.4 399l1.9 1.9l-1.9 1.9l-1.9 -1.9zM511.1 404.7l1.9 1.9l-1.9 1.9l-1.9 -1.9zM469.8 407.1l1.9 1.9l-1.9 1.9l-1.9 -1.9zM445.5 404.3l1.9 1.9l-1.9 1.9l-1.9 -1.9zM432.9 403.1l1.9 1.9l-1.9 1.9l-1.9 -1.9zM427.7 403.5l1.9 1.9l-1.9 1.9l-1.9 -1.9zM421.5 401.3l1.9 1.9l-1.9 1.9l-1.9 -1.9zM415 399.1l1.9 1.9l-1.9 1.9l-1.9 -1.9zM411 396.9l1.9 1.9l-1.9 1.9l-1.9 -1.9zM408.1 400.8l1.9 1.9l-1.9 1.9l-1.9 -1.9zM405.3 399.1l1.9 1.9l-1.9 1.9l-1.9 -1.9zM402.3 397.8l1.9 1.9l-1.9 1.9l-1.9 -1.9zM411.5 409.6l1.9 1.9l-1.9 1.9l-1.9 -1.9z" fill="#2553b0"/>
<path d="M548.1 400.9h4.6M550.4 398.6v4.6M508.8 406.6h4.6M511.1 404.3v4.6M467.5 409h4.6M469.8 406.7v4.6M443.2 406.2h4.6M445.5 403.9v4.6M430.6 405h4.6M432.9 402.7v4.6M425.4 405.4h4.6M427.7 403.1v4.6M419.2 403.2h4.6M421.5 400.9v4.6M412.7 401h4.6M415 398.7v4.6M408.7 398.8h4.6M411 396.5v4.6M405.8 402.7h4.6M408.1 400.4v4.6M403 401h4.6M405.3 398.7v4.6M400 399.7h4.6M402.3 397.4v4.6M409.2 411.5h4.6M411.5 409.2v4.6" stroke="#2553b0" stroke-width="0.8" fill="none"/>
<polyline points="550.3,546.4 510.8,511.5 469.3,468.4 445.3,444.5 431.2,426.4 426.8,421.2 422.4,415.9 415,408 412.8,405.4 411.5,401.9 408.8,403.6 405.3,405.4 402.3,405" fill="none" stroke="#ee3232" stroke-width="1.15" stroke-linejoin="round" stroke-dasharray="3.2 1.2"/>
<path d="M550.3 544.2l2.2 2.2l-2.2 2.2l-2.2 -2.2zM510.8 509.3l2.2 2.2l-2.2 2.2l-2.2 -2.2zM469.3 466.2l2.2 2.2l-2.2 2.2l-2.2 -2.2zM445.3 442.3l2.2 2.2l-2.2 2.2l-2.2 -2.2zM431.2 424.2l2.2 2.2l-2.2 2.2l-2.2 -2.2zM426.8 419l2.2 2.2l-2.2 2.2l-2.2 -2.2zM422.4 413.7l2.2 2.2l-2.2 2.2l-2.2 -2.2zM415 405.8l2.2 2.2l-2.2 2.2l-2.2 -2.2zM412.8 403.2l2.2 2.2l-2.2 2.2l-2.2 -2.2zM411.5 399.7l2.2 2.2l-2.2 2.2l-2.2 -2.2zM408.8 401.4l2.2 2.2l-2.2 2.2l-2.2 -2.2zM405.3 403.2l2.2 2.2l-2.2 2.2l-2.2 -2.2zM402.3 402.8l2.2 2.2l-2.2 2.2l-2.2 -2.2z" fill="#ee3232"/>
<path d="M550.3 545.8l0.6 0.6l-0.6 0.6l-0.6 -0.6zM510.8 510.9l0.6 0.6l-0.6 0.6l-0.6 -0.6zM469.3 467.8l0.6 0.6l-0.6 0.6l-0.6 -0.6zM445.3 443.9l0.6 0.6l-0.6 0.6l-0.6 -0.6zM431.2 425.8l0.6 0.6l-0.6 0.6l-0.6 -0.6zM426.8 420.6l0.6 0.6l-0.6 0.6l-0.6 -0.6zM422.4 415.3l0.6 0.6l-0.6 0.6l-0.6 -0.6zM415 407.4l0.6 0.6l-0.6 0.6l-0.6 -0.6zM412.8 404.8l0.6 0.6l-0.6 0.6l-0.6 -0.6zM411.5 401.3l0.6 0.6l-0.6 0.6l-0.6 -0.6zM408.8 403l0.6 0.6l-0.6 0.6l-0.6 -0.6zM405.3 404.8l0.6 0.6l-0.6 0.6l-0.6 -0.6zM402.3 404.4l0.6 0.6l-0.6 0.6l-0.6 -0.6z" fill="#f59a9a"/>
<polyline points="422.4,415.9 415,408 412.8,405.4 411.5,401.9 408.8,403.6 405.3,405.4 402.3,405" fill="none" stroke="#ee3232" stroke-width="1.8" stroke-linejoin="round"/>
<text x="419.38" y="400.42" font-size="14" fill="#1a1a1a" textLength="38.44" lengthAdjust="spacingAndGlyphs" stroke="#1a1a1a" stroke-width="0.35">450°C</text>
<path d="M413.5 399.5L417.03 398.91L415.15 396.32z" fill="#1a1a1a"/>
<line x1="416.09" y1="397.62" x2="419" y2="395.5" stroke="#1a1a1a" stroke-width="0.9"/>
<text x="432.5" y="425.42" font-size="14" fill="#1a1a1a" textLength="36.91" lengthAdjust="spacingAndGlyphs" stroke="#1a1a1a" stroke-width="0.35">300°C</text>
<text x="471.38" y="518.42" font-size="14" fill="#1a1a1a" textLength="37.43" lengthAdjust="spacingAndGlyphs" stroke="#1a1a1a" stroke-width="0.35">100°C</text>
<line x1="575.1" y1="435.4" x2="575.1" y2="550" stroke="#3a3a3a" stroke-width="1.5"/>
<line x1="575.1" y1="550" x2="640.1" y2="550" stroke="#3a3a3a" stroke-width="1.5"/>
<line x1="575.1" y1="538.64" x2="578.4" y2="538.64" stroke="#3a3a3a" stroke-width="1"/>
<line x1="575.1" y1="527.28" x2="578.4" y2="527.28" stroke="#3a3a3a" stroke-width="1"/>
<line x1="575.1" y1="515.92" x2="578.4" y2="515.92" stroke="#3a3a3a" stroke-width="1"/>
<line x1="575.1" y1="504.56" x2="578.4" y2="504.56" stroke="#3a3a3a" stroke-width="1"/>
<line x1="575.1" y1="493.2" x2="578.4" y2="493.2" stroke="#3a3a3a" stroke-width="1"/>
<line x1="575.1" y1="481.84" x2="578.4" y2="481.84" stroke="#3a3a3a" stroke-width="1"/>
<line x1="575.1" y1="470.48" x2="578.4" y2="470.48" stroke="#3a3a3a" stroke-width="1"/>
<line x1="575.1" y1="459.12" x2="578.4" y2="459.12" stroke="#3a3a3a" stroke-width="1"/>
<line x1="575.1" y1="447.76" x2="578.4" y2="447.76" stroke="#3a3a3a" stroke-width="1"/>
<line x1="575.1" y1="436.4" x2="578.4" y2="436.4" stroke="#3a3a3a" stroke-width="1"/>
<line x1="580.1" y1="550" x2="580.1" y2="547.5" stroke="#3a3a3a" stroke-width="1"/>
<line x1="585.1" y1="550" x2="585.1" y2="547.5" stroke="#3a3a3a" stroke-width="1"/>
<line x1="590.1" y1="550" x2="590.1" y2="547.5" stroke="#3a3a3a" stroke-width="1"/>
<line x1="595.1" y1="550" x2="595.1" y2="547.5" stroke="#3a3a3a" stroke-width="1"/>
<line x1="600.1" y1="550" x2="600.1" y2="547.5" stroke="#3a3a3a" stroke-width="1"/>
<line x1="605.1" y1="550" x2="605.1" y2="547.5" stroke="#3a3a3a" stroke-width="1"/>
<line x1="610.1" y1="550" x2="610.1" y2="547.5" stroke="#3a3a3a" stroke-width="1"/>
<line x1="615.1" y1="550" x2="615.1" y2="547.5" stroke="#3a3a3a" stroke-width="1"/>
<line x1="620.1" y1="550" x2="620.1" y2="547.5" stroke="#3a3a3a" stroke-width="1"/>
<line x1="625.1" y1="550" x2="625.1" y2="547.5" stroke="#3a3a3a" stroke-width="1"/>
<line x1="630.1" y1="550" x2="630.1" y2="547.5" stroke="#3a3a3a" stroke-width="1"/>
<line x1="635.1" y1="550" x2="635.1" y2="547.5" stroke="#3a3a3a" stroke-width="1"/>
<polyline points="576.4,436.6 584.6,466.8 589.5,499.9 594.8,518.3 599.7,528.9 605,533.6 609.9,538.8 615.2,544.9 618.7,546.5 622.8,544.9 626.8,547 630.9,546.5 635,545.9 639.1,545.3" fill="none" stroke="#333333" stroke-width="1.1" stroke-linejoin="round"/>
<path d="M576.4 434.8l1.8 1.8l-1.8 1.8l-1.8 -1.8zM584.6 465l1.8 1.8l-1.8 1.8l-1.8 -1.8zM589.5 498.1l1.8 1.8l-1.8 1.8l-1.8 -1.8zM594.8 516.5l1.8 1.8l-1.8 1.8l-1.8 -1.8zM599.7 527.1l1.8 1.8l-1.8 1.8l-1.8 -1.8zM605 531.8l1.8 1.8l-1.8 1.8l-1.8 -1.8zM609.9 537l1.8 1.8l-1.8 1.8l-1.8 -1.8zM615.2 543.1l1.8 1.8l-1.8 1.8l-1.8 -1.8zM618.7 544.7l1.8 1.8l-1.8 1.8l-1.8 -1.8zM622.8 543.1l1.8 1.8l-1.8 1.8l-1.8 -1.8zM626.8 545.2l1.8 1.8l-1.8 1.8l-1.8 -1.8zM630.9 544.7l1.8 1.8l-1.8 1.8l-1.8 -1.8zM635 544.1l1.8 1.8l-1.8 1.8l-1.8 -1.8zM639.1 543.5l1.8 1.8l-1.8 1.8l-1.8 -1.8z" fill="#333333"/>
<path d="M574.1 436.6h4.6M576.4 434.3v4.6M582.3 466.8h4.6M584.6 464.5v4.6M587.2 499.9h4.6M589.5 497.6v4.6M592.5 518.3h4.6M594.8 516v4.6M597.4 528.9h4.6M599.7 526.6v4.6M602.7 533.6h4.6M605 531.3v4.6M607.6 538.8h4.6M609.9 536.5v4.6M612.9 544.9h4.6M615.2 542.6v4.6M616.4 546.5h4.6M618.7 544.2v4.6M620.5 544.9h4.6M622.8 542.6v4.6M624.5 547h4.6M626.8 544.7v4.6M628.6 546.5h4.6M630.9 544.2v4.6M632.7 545.9h4.6M635 543.6v4.6M636.8 545.3h4.6M639.1 543v4.6" stroke="#333333" stroke-width="0.8" fill="none"/>
<text x="548.39" y="429.03" font-size="12.6" fill="#1a1a1a" textLength="24.47" lengthAdjust="spacingAndGlyphs" stroke="#1a1a1a" stroke-width="0.35">J/Jo</text>
<text x="577.99" y="433.13" font-size="12.6" fill="#1a1a1a" textLength="85.91" lengthAdjust="spacingAndGlyphs" stroke="#1a1a1a" stroke-width="0.35">Jo = 8.06E-02</text>
<text x="626.45" y="446.03" font-size="12.6" fill="#1a1a1a" textLength="33.61" lengthAdjust="spacingAndGlyphs" stroke="#1a1a1a" stroke-width="0.35">(A/m)</text>
<text x="553.75" y="442.93" font-size="12.6" fill="#1a1a1a" textLength="19.19" lengthAdjust="spacingAndGlyphs" stroke="#1a1a1a" stroke-width="0.35">1.0</text>
<text x="554.27" y="498.13" font-size="12.6" fill="#1a1a1a" textLength="18.69" lengthAdjust="spacingAndGlyphs" stroke="#1a1a1a" stroke-width="0.35">0.5</text>
<text x="567.2" y="561.43" font-size="12.6" fill="#1a1a1a" stroke="#1a1a1a" stroke-width="0.35">0</text>
<text x="628.58" y="561.43" font-size="12.6" fill="#1a1a1a" textLength="23.57" lengthAdjust="spacingAndGlyphs" stroke="#1a1a1a" stroke-width="0.35">600</text>
<text x="638.74" y="575.83" font-size="12.6" fill="#1a1a1a" textLength="14.35" lengthAdjust="spacingAndGlyphs" stroke="#1a1a1a" stroke-width="0.35">°C</text>
<text x="0.32" y="678.8" font-size="25.5" fill="#2a2a2a" textLength="22.55" lengthAdjust="spacingAndGlyphs">e)</text>
<text x="27.89" y="678.8" font-size="25.5" fill="#1e9be6" textLength="77.06" lengthAdjust="spacingAndGlyphs">OS-MA</text>
<line x1="26.5" y1="734.6" x2="200.1" y2="734.6" stroke="#222" stroke-width="1.2"/>
<line x1="43.7" y1="719.7" x2="43.7" y2="903.6" stroke="#222" stroke-width="1.2"/>
<line x1="65.3" y1="733.3" x2="65.3" y2="735.9" stroke="#111" stroke-width="1.2"/>
<line x1="86.9" y1="733.3" x2="86.9" y2="735.9" stroke="#111" stroke-width="1.2"/>
<line x1="108.5" y1="733.3" x2="108.5" y2="735.9" stroke="#111" stroke-width="1.2"/>
<line x1="130.1" y1="733.3" x2="130.1" y2="735.9" stroke="#111" stroke-width="1.2"/>
<line x1="151.7" y1="733.3" x2="151.7" y2="735.9" stroke="#111" stroke-width="1.2"/>
<line x1="173.3" y1="733.3" x2="173.3" y2="735.9" stroke="#111" stroke-width="1.2"/>
<line x1="194.9" y1="733.3" x2="194.9" y2="735.9" stroke="#111" stroke-width="1.2"/>
<line x1="42.4" y1="756" x2="45" y2="756" stroke="#111" stroke-width="1.2"/>
<line x1="42.4" y1="777.4" x2="45" y2="777.4" stroke="#111" stroke-width="1.2"/>
<line x1="42.4" y1="798.8" x2="45" y2="798.8" stroke="#111" stroke-width="1.2"/>
<line x1="42.4" y1="820.4" x2="45" y2="820.4" stroke="#111" stroke-width="1.2"/>
<line x1="42.4" y1="842" x2="45" y2="842" stroke="#111" stroke-width="1.2"/>
<line x1="42.4" y1="863.6" x2="45" y2="863.6" stroke="#111" stroke-width="1.2"/>
<line x1="42.4" y1="885.2" x2="45" y2="885.2" stroke="#111" stroke-width="1.2"/>
<text x="31.04" y="716.4" font-size="14" fill="#1a1a1a" textLength="34.13" lengthAdjust="spacingAndGlyphs" stroke="#1a1a1a" stroke-width="0.35">W Up</text>
<text x="17.22" y="737.9" font-size="14" fill="#1a1a1a" textLength="8.46" lengthAdjust="spacingAndGlyphs" stroke="#1a1a1a" stroke-width="0.35">S</text>
<text x="203.45" y="739.4" font-size="14" fill="#1a1a1a" textLength="10.08" lengthAdjust="spacingAndGlyphs" stroke="#1a1a1a" stroke-width="0.35">N</text>
<text x="32.34" y="917.2" font-size="14" fill="#1a1a1a" textLength="49.48" lengthAdjust="spacingAndGlyphs" stroke="#1a1a1a" stroke-width="0.35">E Down</text>
<polyline points="43.7,734.6 43.9,735 45.4,740.1 54.2,751.4 59.3,756.9 68.5,760.6 87.2,781 99.4,790.7 111.5,809.5 120.6,821.7 173.3,876.8 180,885 191.7,892.8" fill="none" stroke="#ee3232" stroke-width="1.4" stroke-linejoin="round" stroke-dasharray="3.6 1.1"/>
<path d="M43.9 732.7l2.3 2.3l-2.3 2.3l-2.3 -2.3zM45.4 737.8l2.3 2.3l-2.3 2.3l-2.3 -2.3zM54.2 749.1l2.3 2.3l-2.3 2.3l-2.3 -2.3zM59.3 754.6l2.3 2.3l-2.3 2.3l-2.3 -2.3zM68.5 758.3l2.3 2.3l-2.3 2.3l-2.3 -2.3zM87.2 778.7l2.3 2.3l-2.3 2.3l-2.3 -2.3zM99.4 788.4l2.3 2.3l-2.3 2.3l-2.3 -2.3zM111.5 807.2l2.3 2.3l-2.3 2.3l-2.3 -2.3zM120.6 819.4l2.3 2.3l-2.3 2.3l-2.3 -2.3zM173.3 874.5l2.3 2.3l-2.3 2.3l-2.3 -2.3zM180 882.7l2.3 2.3l-2.3 2.3l-2.3 -2.3zM191.7 890.5l2.3 2.3l-2.3 2.3l-2.3 -2.3z" fill="#ee3232"/>
<path d="M43.9 734.4l0.6 0.6l-0.6 0.6l-0.6 -0.6zM45.4 739.5l0.6 0.6l-0.6 0.6l-0.6 -0.6zM54.2 750.8l0.6 0.6l-0.6 0.6l-0.6 -0.6zM59.3 756.3l0.6 0.6l-0.6 0.6l-0.6 -0.6zM68.5 760l0.6 0.6l-0.6 0.6l-0.6 -0.6zM87.2 780.4l0.6 0.6l-0.6 0.6l-0.6 -0.6zM99.4 790.1l0.6 0.6l-0.6 0.6l-0.6 -0.6zM111.5 808.9l0.6 0.6l-0.6 0.6l-0.6 -0.6zM120.6 821.1l0.6 0.6l-0.6 0.6l-0.6 -0.6zM173.3 876.2l0.6 0.6l-0.6 0.6l-0.6 -0.6zM180 884.4l0.6 0.6l-0.6 0.6l-0.6 -0.6zM191.7 892.2l0.6 0.6l-0.6 0.6l-0.6 -0.6z" fill="#f59a9a"/>
<circle cx="43.7" cy="734.6" r="2.1" fill="#2a0508"/>
<polyline points="43.7,734.6 45,730 46,734.4 52.7,738.1 54.8,744.6 59.3,739.1 68.5,740.1 86.9,746.7 99.7,743.2 111.4,749.3 121,751.4 173.2,759.3 176.6,764 179.3,763.4 190.9,760.9" fill="none" stroke="#2553b0" stroke-width="1.1" stroke-linejoin="round"/>
<path d="M45 727.9l2.1 2.1l-2.1 2.1l-2.1 -2.1zM46 732.3l2.1 2.1l-2.1 2.1l-2.1 -2.1zM52.7 736l2.1 2.1l-2.1 2.1l-2.1 -2.1zM54.8 742.5l2.1 2.1l-2.1 2.1l-2.1 -2.1zM59.3 737l2.1 2.1l-2.1 2.1l-2.1 -2.1zM68.5 738l2.1 2.1l-2.1 2.1l-2.1 -2.1zM86.9 744.6l2.1 2.1l-2.1 2.1l-2.1 -2.1zM99.7 741.1l2.1 2.1l-2.1 2.1l-2.1 -2.1zM111.4 747.2l2.1 2.1l-2.1 2.1l-2.1 -2.1zM121 749.3l2.1 2.1l-2.1 2.1l-2.1 -2.1zM173.2 757.2l2.1 2.1l-2.1 2.1l-2.1 -2.1zM176.6 761.9l2.1 2.1l-2.1 2.1l-2.1 -2.1zM179.3 761.3l2.1 2.1l-2.1 2.1l-2.1 -2.1zM190.9 758.8l2.1 2.1l-2.1 2.1l-2.1 -2.1z" fill="#2553b0"/>
<path d="M42.7 730h4.6M45 727.7v4.6M43.7 734.4h4.6M46 732.1v4.6M50.4 738.1h4.6M52.7 735.8v4.6M52.5 744.6h4.6M54.8 742.3v4.6M57 739.1h4.6M59.3 736.8v4.6M66.2 740.1h4.6M68.5 737.8v4.6M84.6 746.7h4.6M86.9 744.4v4.6M97.4 743.2h4.6M99.7 740.9v4.6M109.1 749.3h4.6M111.4 747v4.6M118.7 751.4h4.6M121 749.1v4.6M170.9 759.3h4.6M173.2 757v4.6M174.3 764h4.6M176.6 761.7v4.6M177 763.4h4.6M179.3 761.1v4.6M188.6 760.9h4.6M190.9 758.6v4.6" stroke="#2553b0" stroke-width="0.8" fill="none"/>
<text x="72.69" y="764.42" font-size="14" fill="#1a1a1a" textLength="37.83" lengthAdjust="spacingAndGlyphs" stroke="#1a1a1a" stroke-width="0.35">450°C</text>
<text x="71.88" y="815.92" font-size="14" fill="#1a1a1a" textLength="38.14" lengthAdjust="spacingAndGlyphs" stroke="#1a1a1a" stroke-width="0.35">300°C</text>
<text x="140.54" y="889.82" font-size="14" fill="#1a1a1a" textLength="38.68" lengthAdjust="spacingAndGlyphs" stroke="#1a1a1a" stroke-width="0.35">100°C</text>
<line x1="224.2" y1="770.8" x2="224.2" y2="884.7" stroke="#3a3a3a" stroke-width="1.5"/>
<line x1="224.2" y1="884.7" x2="289.1" y2="884.7" stroke="#3a3a3a" stroke-width="1.5"/>
<line x1="224.2" y1="873.41" x2="227.5" y2="873.41" stroke="#3a3a3a" stroke-width="1"/>
<line x1="224.2" y1="862.12" x2="227.5" y2="862.12" stroke="#3a3a3a" stroke-width="1"/>
<line x1="224.2" y1="850.83" x2="227.5" y2="850.83" stroke="#3a3a3a" stroke-width="1"/>
<line x1="224.2" y1="839.54" x2="227.5" y2="839.54" stroke="#3a3a3a" stroke-width="1"/>
<line x1="224.2" y1="828.25" x2="227.5" y2="828.25" stroke="#3a3a3a" stroke-width="1"/>
<line x1="224.2" y1="816.96" x2="227.5" y2="816.96" stroke="#3a3a3a" stroke-width="1"/>
<line x1="224.2" y1="805.67" x2="227.5" y2="805.67" stroke="#3a3a3a" stroke-width="1"/>
<line x1="224.2" y1="794.38" x2="227.5" y2="794.38" stroke="#3a3a3a" stroke-width="1"/>
<line x1="224.2" y1="783.09" x2="227.5" y2="783.09" stroke="#3a3a3a" stroke-width="1"/>
<line x1="224.2" y1="771.8" x2="227.5" y2="771.8" stroke="#3a3a3a" stroke-width="1"/>
<line x1="229.19" y1="884.7" x2="229.19" y2="882.2" stroke="#3a3a3a" stroke-width="1"/>
<line x1="234.18" y1="884.7" x2="234.18" y2="882.2" stroke="#3a3a3a" stroke-width="1"/>
<line x1="239.18" y1="884.7" x2="239.18" y2="882.2" stroke="#3a3a3a" stroke-width="1"/>
<line x1="244.17" y1="884.7" x2="244.17" y2="882.2" stroke="#3a3a3a" stroke-width="1"/>
<line x1="249.16" y1="884.7" x2="249.16" y2="882.2" stroke="#3a3a3a" stroke-width="1"/>
<line x1="254.15" y1="884.7" x2="254.15" y2="882.2" stroke="#3a3a3a" stroke-width="1"/>
<line x1="259.15" y1="884.7" x2="259.15" y2="882.2" stroke="#3a3a3a" stroke-width="1"/>
<line x1="264.14" y1="884.7" x2="264.14" y2="882.2" stroke="#3a3a3a" stroke-width="1"/>
<line x1="269.13" y1="884.7" x2="269.13" y2="882.2" stroke="#3a3a3a" stroke-width="1"/>
<line x1="274.12" y1="884.7" x2="274.12" y2="882.2" stroke="#3a3a3a" stroke-width="1"/>
<line x1="279.12" y1="884.7" x2="279.12" y2="882.2" stroke="#3a3a3a" stroke-width="1"/>
<line x1="284.11" y1="884.7" x2="284.11" y2="882.2" stroke="#3a3a3a" stroke-width="1"/>
<polyline points="225.2,771.7 232.9,778.4 238.6,781.9 243.5,783.9 248.9,823.8 253.8,832 259.1,843.2 264,851.4 268.7,865.1 272.8,869.8 277.9,875.9 282,882 287.1,883.1" fill="none" stroke="#333333" stroke-width="1.1" stroke-linejoin="round"/>
<path d="M225.2 769.9l1.8 1.8l-1.8 1.8l-1.8 -1.8zM232.9 776.6l1.8 1.8l-1.8 1.8l-1.8 -1.8zM238.6 780.1l1.8 1.8l-1.8 1.8l-1.8 -1.8zM243.5 782.1l1.8 1.8l-1.8 1.8l-1.8 -1.8zM248.9 822l1.8 1.8l-1.8 1.8l-1.8 -1.8zM253.8 830.2l1.8 1.8l-1.8 1.8l-1.8 -1.8zM259.1 841.4l1.8 1.8l-1.8 1.8l-1.8 -1.8zM264 849.6l1.8 1.8l-1.8 1.8l-1.8 -1.8zM268.7 863.3l1.8 1.8l-1.8 1.8l-1.8 -1.8zM272.8 868l1.8 1.8l-1.8 1.8l-1.8 -1.8zM277.9 874.1l1.8 1.8l-1.8 1.8l-1.8 -1.8zM282 880.2l1.8 1.8l-1.8 1.8l-1.8 -1.8zM287.1 881.3l1.8 1.8l-1.8 1.8l-1.8 -1.8z" fill="#333333"/>
<path d="M222.9 771.7h4.6M225.2 769.4v4.6M230.6 778.4h4.6M232.9 776.1v4.6M236.3 781.9h4.6M238.6 779.6v4.6M241.2 783.9h4.6M243.5 781.6v4.6M246.6 823.8h4.6M248.9 821.5v4.6M251.5 832h4.6M253.8 829.7v4.6M256.8 843.2h4.6M259.1 840.9v4.6M261.7 851.4h4.6M264 849.1v4.6M266.4 865.1h4.6M268.7 862.8v4.6M270.5 869.8h4.6M272.8 867.5v4.6M275.6 875.9h4.6M277.9 873.6v4.6M279.7 882h4.6M282 879.7v4.6M284.8 883.1h4.6M287.1 880.8v4.6" stroke="#333333" stroke-width="0.8" fill="none"/>
<text x="199.4" y="764.33" font-size="12.6" fill="#1a1a1a" textLength="23.44" lengthAdjust="spacingAndGlyphs" stroke="#1a1a1a" stroke-width="0.35">J/Jo</text>
<text x="226.59" y="768.43" font-size="12.6" fill="#1a1a1a" textLength="84.67" lengthAdjust="spacingAndGlyphs" stroke="#1a1a1a" stroke-width="0.35">Jo = 1.01E-01</text>
<text x="272.33" y="782.13" font-size="12.6" fill="#1a1a1a" textLength="34.24" lengthAdjust="spacingAndGlyphs" stroke="#1a1a1a" stroke-width="0.35">(A/m)</text>
<text x="203.54" y="776.43" font-size="12.6" fill="#1a1a1a" textLength="19.3" lengthAdjust="spacingAndGlyphs" stroke="#1a1a1a" stroke-width="0.35">1.0</text>
<text x="204.07" y="832.93" font-size="12.6" fill="#1a1a1a" textLength="18.8" lengthAdjust="spacingAndGlyphs" stroke="#1a1a1a" stroke-width="0.35">0.5</text>
<text x="216.1" y="896.63" font-size="12.6" fill="#1a1a1a" stroke="#1a1a1a" stroke-width="0.35">0</text>
<text x="277.98" y="896.63" font-size="12.6" fill="#1a1a1a" textLength="23.57" lengthAdjust="spacingAndGlyphs" stroke="#1a1a1a" stroke-width="0.35">600</text>
<text x="288.08" y="909.43" font-size="12.6" fill="#1a1a1a" textLength="15.44" lengthAdjust="spacingAndGlyphs" stroke="#1a1a1a" stroke-width="0.35">°C</text>
<text x="372.69" y="677.8" font-size="25.5" fill="#2a2a2a" textLength="17.71" lengthAdjust="spacingAndGlyphs">f)</text>
<text x="394.03" y="677.8" font-size="25.5" fill="#52ae42" textLength="81.12" lengthAdjust="spacingAndGlyphs">IW1-EA</text>
<line x1="400" y1="775.2" x2="580.7" y2="775.2" stroke="#222" stroke-width="1.2"/>
<line x1="420" y1="713.6" x2="420" y2="961.5" stroke="#888" stroke-width="1.7"/>
<line x1="402.6" y1="773.9" x2="402.6" y2="776.5" stroke="#111" stroke-width="1.2"/>
<line x1="436.4" y1="773.9" x2="436.4" y2="776.5" stroke="#111" stroke-width="1.2"/>
<line x1="470.2" y1="773.9" x2="470.2" y2="776.5" stroke="#111" stroke-width="1.2"/>
<line x1="504" y1="773.9" x2="504" y2="776.5" stroke="#111" stroke-width="1.2"/>
<line x1="537.6" y1="773.9" x2="537.6" y2="776.5" stroke="#111" stroke-width="1.2"/>
<line x1="571.2" y1="773.9" x2="571.2" y2="776.5" stroke="#111" stroke-width="1.2"/>
<line x1="418.7" y1="741.4" x2="421.3" y2="741.4" stroke="#111" stroke-width="1.2"/>
<line x1="418.7" y1="808.9" x2="421.3" y2="808.9" stroke="#111" stroke-width="1.2"/>
<line x1="418.7" y1="842.5" x2="421.3" y2="842.5" stroke="#111" stroke-width="1.2"/>
<line x1="418.7" y1="876.1" x2="421.3" y2="876.1" stroke="#111" stroke-width="1.2"/>
<line x1="418.7" y1="909.8" x2="421.3" y2="909.8" stroke="#111" stroke-width="1.2"/>
<line x1="418.7" y1="943.4" x2="421.3" y2="943.4" stroke="#111" stroke-width="1.2"/>
<text x="406.94" y="712.6" font-size="14" fill="#1a1a1a" textLength="33.93" lengthAdjust="spacingAndGlyphs" stroke="#1a1a1a" stroke-width="0.35">W Up</text>
<text x="388.42" y="778.6" font-size="14" fill="#1a1a1a" textLength="8.57" lengthAdjust="spacingAndGlyphs" stroke="#1a1a1a" stroke-width="0.35">S</text>
<text x="584.59" y="779.7" font-size="14" fill="#1a1a1a" textLength="11.51" lengthAdjust="spacingAndGlyphs" stroke="#1a1a1a" stroke-width="0.35">N</text>
<text x="408.46" y="975.5" font-size="14" fill="#1a1a1a" textLength="48.54" lengthAdjust="spacingAndGlyphs" stroke="#1a1a1a" stroke-width="0.35">E Down</text>
<polyline points="420,775.2 427.6,783.4 461,823.9 482,848.8 492.5,862.5 499.3,870.6 504.6,880.4 510.9,890.9 520.3,902.7 535.3,920.3 551.1,935 557.6,940.8 559,944.7 560.8,950 566.1,950" fill="none" stroke="#ee3232" stroke-width="1.4" stroke-linejoin="round" stroke-dasharray="3.6 1.1"/>
<path d="M427.6 781.1l2.3 2.3l-2.3 2.3l-2.3 -2.3zM461 821.6l2.3 2.3l-2.3 2.3l-2.3 -2.3zM482 846.5l2.3 2.3l-2.3 2.3l-2.3 -2.3zM492.5 860.2l2.3 2.3l-2.3 2.3l-2.3 -2.3zM499.3 868.3l2.3 2.3l-2.3 2.3l-2.3 -2.3zM504.6 878.1l2.3 2.3l-2.3 2.3l-2.3 -2.3zM510.9 888.6l2.3 2.3l-2.3 2.3l-2.3 -2.3zM520.3 900.4l2.3 2.3l-2.3 2.3l-2.3 -2.3zM535.3 918l2.3 2.3l-2.3 2.3l-2.3 -2.3zM551.1 932.7l2.3 2.3l-2.3 2.3l-2.3 -2.3zM557.6 938.5l2.3 2.3l-2.3 2.3l-2.3 -2.3zM559 942.4l2.3 2.3l-2.3 2.3l-2.3 -2.3zM560.8 947.7l2.3 2.3l-2.3 2.3l-2.3 -2.3zM566.1 947.7l2.3 2.3l-2.3 2.3l-2.3 -2.3z" fill="#ee3232"/>
<path d="M427.6 782.8l0.6 0.6l-0.6 0.6l-0.6 -0.6zM461 823.3l0.6 0.6l-0.6 0.6l-0.6 -0.6zM482 848.2l0.6 0.6l-0.6 0.6l-0.6 -0.6zM492.5 861.9l0.6 0.6l-0.6 0.6l-0.6 -0.6zM499.3 870l0.6 0.6l-0.6 0.6l-0.6 -0.6zM504.6 879.8l0.6 0.6l-0.6 0.6l-0.6 -0.6zM510.9 890.3l0.6 0.6l-0.6 0.6l-0.6 -0.6zM520.3 902.1l0.6 0.6l-0.6 0.6l-0.6 -0.6zM535.3 919.7l0.6 0.6l-0.6 0.6l-0.6 -0.6zM551.1 934.4l0.6 0.6l-0.6 0.6l-0.6 -0.6zM557.6 940.2l0.6 0.6l-0.6 0.6l-0.6 -0.6zM559 944.1l0.6 0.6l-0.6 0.6l-0.6 -0.6zM560.8 949.4l0.6 0.6l-0.6 0.6l-0.6 -0.6zM566.1 949.4l0.6 0.6l-0.6 0.6l-0.6 -0.6z" fill="#f59a9a"/>
<circle cx="420" cy="775.2" r="2.1" fill="#2a0508"/>
<polyline points="420,775.2 427.6,772.9 461.6,761.8 482.2,755.3 492.8,751.6 499.5,750.8 503.6,747.9 511,745 520.7,742.5 535.7,736.7 551.8,734.5 557.6,732.2 561.4,730.3 567.2,732.8" fill="none" stroke="#2553b0" stroke-width="1.1" stroke-linejoin="round"/>
<path d="M427.6 770.8l2.1 2.1l-2.1 2.1l-2.1 -2.1zM461.6 759.7l2.1 2.1l-2.1 2.1l-2.1 -2.1zM482.2 753.2l2.1 2.1l-2.1 2.1l-2.1 -2.1zM492.8 749.5l2.1 2.1l-2.1 2.1l-2.1 -2.1zM499.5 748.7l2.1 2.1l-2.1 2.1l-2.1 -2.1zM503.6 745.8l2.1 2.1l-2.1 2.1l-2.1 -2.1zM511 742.9l2.1 2.1l-2.1 2.1l-2.1 -2.1zM520.7 740.4l2.1 2.1l-2.1 2.1l-2.1 -2.1zM535.7 734.6l2.1 2.1l-2.1 2.1l-2.1 -2.1zM551.8 732.4l2.1 2.1l-2.1 2.1l-2.1 -2.1zM557.6 730.1l2.1 2.1l-2.1 2.1l-2.1 -2.1zM561.4 728.2l2.1 2.1l-2.1 2.1l-2.1 -2.1zM567.2 730.7l2.1 2.1l-2.1 2.1l-2.1 -2.1z" fill="#2553b0"/>
<path d="M425.3 772.9h4.6M427.6 770.6v4.6M459.3 761.8h4.6M461.6 759.5v4.6M479.9 755.3h4.6M482.2 753v4.6M490.5 751.6h4.6M492.8 749.3v4.6M497.2 750.8h4.6M499.5 748.5v4.6M501.3 747.9h4.6M503.6 745.6v4.6M508.7 745h4.6M511 742.7v4.6M518.4 742.5h4.6M520.7 740.2v4.6M533.4 736.7h4.6M535.7 734.4v4.6M549.5 734.5h4.6M551.8 732.2v4.6M555.3 732.2h4.6M557.6 729.9v4.6M559.1 730.3h4.6M561.4 728v4.6M564.9 732.8h4.6M567.2 730.5v4.6" stroke="#2553b0" stroke-width="0.8" fill="none"/>
<text x="465.54" y="828.12" font-size="14" fill="#1a1a1a" textLength="39.2" lengthAdjust="spacingAndGlyphs" stroke="#1a1a1a" stroke-width="0.35">570°C</text>
<text x="463.68" y="885.72" font-size="14" fill="#1a1a1a" textLength="38.34" lengthAdjust="spacingAndGlyphs" stroke="#1a1a1a" stroke-width="0.35">450°C</text>
<text x="494.98" y="926.72" font-size="14" fill="#1a1a1a" textLength="37.83" lengthAdjust="spacingAndGlyphs" stroke="#1a1a1a" stroke-width="0.35">300°C</text>
<line x1="593" y1="821.5" x2="593" y2="935.5" stroke="#3a3a3a" stroke-width="1.5"/>
<line x1="593" y1="935.5" x2="657.8" y2="935.5" stroke="#3a3a3a" stroke-width="1.5"/>
<line x1="593" y1="924.2" x2="596.3" y2="924.2" stroke="#3a3a3a" stroke-width="1"/>
<line x1="593" y1="912.9" x2="596.3" y2="912.9" stroke="#3a3a3a" stroke-width="1"/>
<line x1="593" y1="901.6" x2="596.3" y2="901.6" stroke="#3a3a3a" stroke-width="1"/>
<line x1="593" y1="890.3" x2="596.3" y2="890.3" stroke="#3a3a3a" stroke-width="1"/>
<line x1="593" y1="879" x2="596.3" y2="879" stroke="#3a3a3a" stroke-width="1"/>
<line x1="593" y1="867.7" x2="596.3" y2="867.7" stroke="#3a3a3a" stroke-width="1"/>
<line x1="593" y1="856.4" x2="596.3" y2="856.4" stroke="#3a3a3a" stroke-width="1"/>
<line x1="593" y1="845.1" x2="596.3" y2="845.1" stroke="#3a3a3a" stroke-width="1"/>
<line x1="593" y1="833.8" x2="596.3" y2="833.8" stroke="#3a3a3a" stroke-width="1"/>
<line x1="593" y1="822.5" x2="596.3" y2="822.5" stroke="#3a3a3a" stroke-width="1"/>
<line x1="597.98" y1="935.5" x2="597.98" y2="933" stroke="#3a3a3a" stroke-width="1"/>
<line x1="602.97" y1="935.5" x2="602.97" y2="933" stroke="#3a3a3a" stroke-width="1"/>
<line x1="607.95" y1="935.5" x2="607.95" y2="933" stroke="#3a3a3a" stroke-width="1"/>
<line x1="612.94" y1="935.5" x2="612.94" y2="933" stroke="#3a3a3a" stroke-width="1"/>
<line x1="617.92" y1="935.5" x2="617.92" y2="933" stroke="#3a3a3a" stroke-width="1"/>
<line x1="622.91" y1="935.5" x2="622.91" y2="933" stroke="#3a3a3a" stroke-width="1"/>
<line x1="627.89" y1="935.5" x2="627.89" y2="933" stroke="#3a3a3a" stroke-width="1"/>
<line x1="632.88" y1="935.5" x2="632.88" y2="933" stroke="#3a3a3a" stroke-width="1"/>
<line x1="637.86" y1="935.5" x2="637.86" y2="933" stroke="#3a3a3a" stroke-width="1"/>
<line x1="642.85" y1="935.5" x2="642.85" y2="933" stroke="#3a3a3a" stroke-width="1"/>
<line x1="647.83" y1="935.5" x2="647.83" y2="933" stroke="#3a3a3a" stroke-width="1"/>
<line x1="652.82" y1="935.5" x2="652.82" y2="933" stroke="#3a3a3a" stroke-width="1"/>
<polyline points="594,822.7 602.6,824.7 607.9,827.8 612.9,829.2 617.6,832.9 622.7,844.2 627.8,855.4 632.9,862.6 638.6,869.3 641.5,873.8 644.7,878.9 647.2,887.1 650.3,902.8 653.7,929.4 656.4,935.1" fill="none" stroke="#333333" stroke-width="1.1" stroke-linejoin="round"/>
<path d="M594 820.9l1.8 1.8l-1.8 1.8l-1.8 -1.8zM602.6 822.9l1.8 1.8l-1.8 1.8l-1.8 -1.8zM607.9 826l1.8 1.8l-1.8 1.8l-1.8 -1.8zM612.9 827.4l1.8 1.8l-1.8 1.8l-1.8 -1.8zM617.6 831.1l1.8 1.8l-1.8 1.8l-1.8 -1.8zM622.7 842.4l1.8 1.8l-1.8 1.8l-1.8 -1.8zM627.8 853.6l1.8 1.8l-1.8 1.8l-1.8 -1.8zM632.9 860.8l1.8 1.8l-1.8 1.8l-1.8 -1.8zM638.6 867.5l1.8 1.8l-1.8 1.8l-1.8 -1.8zM641.5 872l1.8 1.8l-1.8 1.8l-1.8 -1.8zM644.7 877.1l1.8 1.8l-1.8 1.8l-1.8 -1.8zM647.2 885.3l1.8 1.8l-1.8 1.8l-1.8 -1.8zM650.3 901l1.8 1.8l-1.8 1.8l-1.8 -1.8zM653.7 927.6l1.8 1.8l-1.8 1.8l-1.8 -1.8zM656.4 933.3l1.8 1.8l-1.8 1.8l-1.8 -1.8z" fill="#333333"/>
<path d="M591.7 822.7h4.6M594 820.4v4.6M600.3 824.7h4.6M602.6 822.4v4.6M605.6 827.8h4.6M607.9 825.5v4.6M610.6 829.2h4.6M612.9 826.9v4.6M615.3 832.9h4.6M617.6 830.6v4.6M620.4 844.2h4.6M622.7 841.9v4.6M625.5 855.4h4.6M627.8 853.1v4.6M630.6 862.6h4.6M632.9 860.3v4.6M636.3 869.3h4.6M638.6 867v4.6M639.2 873.8h4.6M641.5 871.5v4.6M642.4 878.9h4.6M644.7 876.6v4.6M644.9 887.1h4.6M647.2 884.8v4.6M648 902.8h4.6M650.3 900.5v4.6M651.4 929.4h4.6M653.7 927.1v4.6M654.1 935.1h4.6M656.4 932.8v4.6" stroke="#333333" stroke-width="0.8" fill="none"/>
<text x="567.29" y="814.73" font-size="12.6" fill="#1a1a1a" textLength="24.47" lengthAdjust="spacingAndGlyphs" stroke="#1a1a1a" stroke-width="0.35">J/Jo</text>
<text x="595.29" y="816.83" font-size="12.6" fill="#1a1a1a" textLength="88.44" lengthAdjust="spacingAndGlyphs" stroke="#1a1a1a" stroke-width="0.35">Jo = 1.38E+00</text>
<text x="645.13" y="831.13" font-size="12.6" fill="#1a1a1a" textLength="34.24" lengthAdjust="spacingAndGlyphs" stroke="#1a1a1a" stroke-width="0.35">(A/m)</text>
<text x="572.34" y="828.03" font-size="12.6" fill="#1a1a1a" textLength="19.41" lengthAdjust="spacingAndGlyphs" stroke="#1a1a1a" stroke-width="0.35">1.0</text>
<text x="572.87" y="884.23" font-size="12.6" fill="#1a1a1a" textLength="18.9" lengthAdjust="spacingAndGlyphs" stroke="#1a1a1a" stroke-width="0.35">0.5</text>
<text x="587.5" y="947.23" font-size="12.6" fill="#1a1a1a" stroke="#1a1a1a" stroke-width="0.35">0</text>
<text x="649.28" y="947.23" font-size="12.6" fill="#1a1a1a" textLength="23.57" lengthAdjust="spacingAndGlyphs" stroke="#1a1a1a" stroke-width="0.35">600</text>
<text x="658.01" y="959.43" font-size="12.6" fill="#1a1a1a" textLength="14.79" lengthAdjust="spacingAndGlyphs" stroke="#1a1a1a" stroke-width="0.35">°C</text>
<text x="0.38" y="1018.8" font-size="25.5" fill="#2a2a2a" textLength="21.52" lengthAdjust="spacingAndGlyphs">g)</text>
<text x="25.61" y="1018.8" font-size="25.5" fill="#52ae42" textLength="83.04" lengthAdjust="spacingAndGlyphs">IW2-DA</text>
<line x1="15.9" y1="1120.6" x2="193" y2="1120.6" stroke="#8e8e8e" stroke-width="2"/>
<line x1="32.4" y1="1063.4" x2="32.4" y2="1260.6" stroke="#8e8e8e" stroke-width="2"/>
<line x1="60.3" y1="1119.3" x2="60.3" y2="1121.9" stroke="#111" stroke-width="1.2"/>
<line x1="88.3" y1="1119.3" x2="88.3" y2="1121.9" stroke="#111" stroke-width="1.2"/>
<line x1="116.3" y1="1119.3" x2="116.3" y2="1121.9" stroke="#111" stroke-width="1.2"/>
<line x1="144.2" y1="1119.3" x2="144.2" y2="1121.9" stroke="#111" stroke-width="1.2"/>
<line x1="172.1" y1="1119.3" x2="172.1" y2="1121.9" stroke="#111" stroke-width="1.2"/>
<line x1="31.1" y1="1065.2" x2="33.7" y2="1065.2" stroke="#111" stroke-width="1.2"/>
<line x1="31.1" y1="1093" x2="33.7" y2="1093" stroke="#111" stroke-width="1.2"/>
<line x1="31.1" y1="1148.4" x2="33.7" y2="1148.4" stroke="#111" stroke-width="1.2"/>
<line x1="31.1" y1="1176.1" x2="33.7" y2="1176.1" stroke="#111" stroke-width="1.2"/>
<line x1="31.1" y1="1203.9" x2="33.7" y2="1203.9" stroke="#111" stroke-width="1.2"/>
<line x1="31.1" y1="1231.6" x2="33.7" y2="1231.6" stroke="#111" stroke-width="1.2"/>
<text x="19.74" y="1060.3" font-size="14" fill="#1a1a1a" textLength="33.93" lengthAdjust="spacingAndGlyphs" stroke="#1a1a1a" stroke-width="0.35">W Up</text>
<text x="4.81" y="1125.3" font-size="14" fill="#1a1a1a" textLength="10.2" lengthAdjust="spacingAndGlyphs" stroke="#1a1a1a" stroke-width="0.35">S</text>
<text x="198.41" y="1125.4" font-size="14" fill="#1a1a1a" textLength="9.57" lengthAdjust="spacingAndGlyphs" stroke="#1a1a1a" stroke-width="0.35">N</text>
<text x="21.16" y="1275.6" font-size="14" fill="#1a1a1a" textLength="48.85" lengthAdjust="spacingAndGlyphs" stroke="#1a1a1a" stroke-width="0.35">E Down</text>
<polyline points="32.4,1120.6 52,1135.5 76.5,1154.9 96.9,1177.4 110.4,1189.1 116.2,1196.4 130.8,1212.4 137.2,1221.2 148.3,1230.8 157.7,1240.1 162.9,1246 168.8,1248.3 173.7,1251.8 179.6,1256.2" fill="none" stroke="#ee3232" stroke-width="1.4" stroke-linejoin="round" stroke-dasharray="3.6 1.1"/>
<path d="M52 1133.2l2.3 2.3l-2.3 2.3l-2.3 -2.3zM76.5 1152.6l2.3 2.3l-2.3 2.3l-2.3 -2.3zM96.9 1175.1l2.3 2.3l-2.3 2.3l-2.3 -2.3zM110.4 1186.8l2.3 2.3l-2.3 2.3l-2.3 -2.3zM116.2 1194.1l2.3 2.3l-2.3 2.3l-2.3 -2.3zM130.8 1210.1l2.3 2.3l-2.3 2.3l-2.3 -2.3zM137.2 1218.9l2.3 2.3l-2.3 2.3l-2.3 -2.3zM148.3 1228.5l2.3 2.3l-2.3 2.3l-2.3 -2.3zM157.7 1237.8l2.3 2.3l-2.3 2.3l-2.3 -2.3zM162.9 1243.7l2.3 2.3l-2.3 2.3l-2.3 -2.3zM168.8 1246l2.3 2.3l-2.3 2.3l-2.3 -2.3zM173.7 1249.5l2.3 2.3l-2.3 2.3l-2.3 -2.3zM179.6 1253.9l2.3 2.3l-2.3 2.3l-2.3 -2.3z" fill="#ee3232"/>
<path d="M52 1134.9l0.6 0.6l-0.6 0.6l-0.6 -0.6zM76.5 1154.3l0.6 0.6l-0.6 0.6l-0.6 -0.6zM96.9 1176.8l0.6 0.6l-0.6 0.6l-0.6 -0.6zM110.4 1188.5l0.6 0.6l-0.6 0.6l-0.6 -0.6zM116.2 1195.8l0.6 0.6l-0.6 0.6l-0.6 -0.6zM130.8 1211.8l0.6 0.6l-0.6 0.6l-0.6 -0.6zM137.2 1220.6l0.6 0.6l-0.6 0.6l-0.6 -0.6zM148.3 1230.2l0.6 0.6l-0.6 0.6l-0.6 -0.6zM157.7 1239.5l0.6 0.6l-0.6 0.6l-0.6 -0.6zM162.9 1245.4l0.6 0.6l-0.6 0.6l-0.6 -0.6zM168.8 1247.7l0.6 0.6l-0.6 0.6l-0.6 -0.6zM173.7 1251.2l0.6 0.6l-0.6 0.6l-0.6 -0.6zM179.6 1255.6l0.6 0.6l-0.6 0.6l-0.6 -0.6z" fill="#f59a9a"/>
<circle cx="32.4" cy="1120.6" r="2.1" fill="#2a0508"/>
<polyline points="32.4,1120.6 52.1,1116.5 77.3,1105.7 97.1,1102.2 110.3,1097.7 116.6,1095.8 119.5,1094.9 130.7,1093.5 136.9,1090.8 148,1087.4 158.2,1083.3 163.4,1081.9 168.5,1079.9 173.6,1077.2 179.3,1075.8" fill="none" stroke="#2553b0" stroke-width="1.1" stroke-linejoin="round"/>
<path d="M52.1 1114.4l2.1 2.1l-2.1 2.1l-2.1 -2.1zM77.3 1103.6l2.1 2.1l-2.1 2.1l-2.1 -2.1zM97.1 1100.1l2.1 2.1l-2.1 2.1l-2.1 -2.1zM110.3 1095.6l2.1 2.1l-2.1 2.1l-2.1 -2.1zM116.6 1093.7l2.1 2.1l-2.1 2.1l-2.1 -2.1zM119.5 1092.8l2.1 2.1l-2.1 2.1l-2.1 -2.1zM130.7 1091.4l2.1 2.1l-2.1 2.1l-2.1 -2.1zM136.9 1088.7l2.1 2.1l-2.1 2.1l-2.1 -2.1zM148 1085.3l2.1 2.1l-2.1 2.1l-2.1 -2.1zM158.2 1081.2l2.1 2.1l-2.1 2.1l-2.1 -2.1zM163.4 1079.8l2.1 2.1l-2.1 2.1l-2.1 -2.1zM168.5 1077.8l2.1 2.1l-2.1 2.1l-2.1 -2.1zM173.6 1075.1l2.1 2.1l-2.1 2.1l-2.1 -2.1zM179.3 1073.7l2.1 2.1l-2.1 2.1l-2.1 -2.1z" fill="#2553b0"/>
<path d="M49.8 1116.5h4.6M52.1 1114.2v4.6M75 1105.7h4.6M77.3 1103.4v4.6M94.8 1102.2h4.6M97.1 1099.9v4.6M108 1097.7h4.6M110.3 1095.4v4.6M114.3 1095.8h4.6M116.6 1093.5v4.6M117.2 1094.9h4.6M119.5 1092.6v4.6M128.4 1093.5h4.6M130.7 1091.2v4.6M134.6 1090.8h4.6M136.9 1088.5v4.6M145.7 1087.4h4.6M148 1085.1v4.6M155.9 1083.3h4.6M158.2 1081v4.6M161.1 1081.9h4.6M163.4 1079.6v4.6M166.2 1079.9h4.6M168.5 1077.6v4.6M171.3 1077.2h4.6M173.6 1074.9v4.6M177 1075.8h4.6M179.3 1073.5v4.6" stroke="#2553b0" stroke-width="0.8" fill="none"/>
<text x="81.66" y="1158.82" font-size="14" fill="#1a1a1a" textLength="37.55" lengthAdjust="spacingAndGlyphs" stroke="#1a1a1a" stroke-width="0.35">570°C</text>
<text x="81.28" y="1208.42" font-size="14" fill="#1a1a1a" textLength="38.54" lengthAdjust="spacingAndGlyphs" stroke="#1a1a1a" stroke-width="0.35">450°C</text>
<text x="108.48" y="1237.62" font-size="14" fill="#1a1a1a" textLength="38.24" lengthAdjust="spacingAndGlyphs" stroke="#1a1a1a" stroke-width="0.35">300°C</text>
<line x1="206.2" y1="1160.7" x2="206.2" y2="1274.7" stroke="#3a3a3a" stroke-width="1.5"/>
<line x1="206.2" y1="1274.7" x2="270.1" y2="1274.7" stroke="#3a3a3a" stroke-width="1.5"/>
<line x1="206.2" y1="1263.4" x2="209.5" y2="1263.4" stroke="#3a3a3a" stroke-width="1"/>
<line x1="206.2" y1="1252.1" x2="209.5" y2="1252.1" stroke="#3a3a3a" stroke-width="1"/>
<line x1="206.2" y1="1240.8" x2="209.5" y2="1240.8" stroke="#3a3a3a" stroke-width="1"/>
<line x1="206.2" y1="1229.5" x2="209.5" y2="1229.5" stroke="#3a3a3a" stroke-width="1"/>
<line x1="206.2" y1="1218.2" x2="209.5" y2="1218.2" stroke="#3a3a3a" stroke-width="1"/>
<line x1="206.2" y1="1206.9" x2="209.5" y2="1206.9" stroke="#3a3a3a" stroke-width="1"/>
<line x1="206.2" y1="1195.6" x2="209.5" y2="1195.6" stroke="#3a3a3a" stroke-width="1"/>
<line x1="206.2" y1="1184.3" x2="209.5" y2="1184.3" stroke="#3a3a3a" stroke-width="1"/>
<line x1="206.2" y1="1173" x2="209.5" y2="1173" stroke="#3a3a3a" stroke-width="1"/>
<line x1="206.2" y1="1161.7" x2="209.5" y2="1161.7" stroke="#3a3a3a" stroke-width="1"/>
<line x1="211.12" y1="1274.7" x2="211.12" y2="1272.2" stroke="#3a3a3a" stroke-width="1"/>
<line x1="216.03" y1="1274.7" x2="216.03" y2="1272.2" stroke="#3a3a3a" stroke-width="1"/>
<line x1="220.95" y1="1274.7" x2="220.95" y2="1272.2" stroke="#3a3a3a" stroke-width="1"/>
<line x1="225.86" y1="1274.7" x2="225.86" y2="1272.2" stroke="#3a3a3a" stroke-width="1"/>
<line x1="230.78" y1="1274.7" x2="230.78" y2="1272.2" stroke="#3a3a3a" stroke-width="1"/>
<line x1="235.69" y1="1274.7" x2="235.69" y2="1272.2" stroke="#3a3a3a" stroke-width="1"/>
<line x1="240.61" y1="1274.7" x2="240.61" y2="1272.2" stroke="#3a3a3a" stroke-width="1"/>
<line x1="245.52" y1="1274.7" x2="245.52" y2="1272.2" stroke="#3a3a3a" stroke-width="1"/>
<line x1="250.44" y1="1274.7" x2="250.44" y2="1272.2" stroke="#3a3a3a" stroke-width="1"/>
<line x1="255.35" y1="1274.7" x2="255.35" y2="1272.2" stroke="#3a3a3a" stroke-width="1"/>
<line x1="260.27" y1="1274.7" x2="260.27" y2="1272.2" stroke="#3a3a3a" stroke-width="1"/>
<line x1="265.18" y1="1274.7" x2="265.18" y2="1272.2" stroke="#3a3a3a" stroke-width="1"/>
<polyline points="207.2,1161.7 215.4,1165.8 220.7,1169.9 225.6,1172.9 230.9,1177.4 235.8,1185.2 240.5,1192.9 246,1199.1 250.3,1207.3 254.2,1210.7 257.5,1215.8 260.3,1225.6 263.4,1241.4 266.1,1259.2 269.1,1273.1" fill="none" stroke="#333333" stroke-width="1.1" stroke-linejoin="round"/>
<path d="M207.2 1159.9l1.8 1.8l-1.8 1.8l-1.8 -1.8zM215.4 1164l1.8 1.8l-1.8 1.8l-1.8 -1.8zM220.7 1168.1l1.8 1.8l-1.8 1.8l-1.8 -1.8zM225.6 1171.1l1.8 1.8l-1.8 1.8l-1.8 -1.8zM230.9 1175.6l1.8 1.8l-1.8 1.8l-1.8 -1.8zM235.8 1183.4l1.8 1.8l-1.8 1.8l-1.8 -1.8zM240.5 1191.1l1.8 1.8l-1.8 1.8l-1.8 -1.8zM246 1197.3l1.8 1.8l-1.8 1.8l-1.8 -1.8zM250.3 1205.5l1.8 1.8l-1.8 1.8l-1.8 -1.8zM254.2 1208.9l1.8 1.8l-1.8 1.8l-1.8 -1.8zM257.5 1214l1.8 1.8l-1.8 1.8l-1.8 -1.8zM260.3 1223.8l1.8 1.8l-1.8 1.8l-1.8 -1.8zM263.4 1239.6l1.8 1.8l-1.8 1.8l-1.8 -1.8zM266.1 1257.4l1.8 1.8l-1.8 1.8l-1.8 -1.8zM269.1 1271.3l1.8 1.8l-1.8 1.8l-1.8 -1.8z" fill="#333333"/>
<path d="M204.9 1161.7h4.6M207.2 1159.4v4.6M213.1 1165.8h4.6M215.4 1163.5v4.6M218.4 1169.9h4.6M220.7 1167.6v4.6M223.3 1172.9h4.6M225.6 1170.6v4.6M228.6 1177.4h4.6M230.9 1175.1v4.6M233.5 1185.2h4.6M235.8 1182.9v4.6M238.2 1192.9h4.6M240.5 1190.6v4.6M243.7 1199.1h4.6M246 1196.8v4.6M248 1207.3h4.6M250.3 1205v4.6M251.9 1210.7h4.6M254.2 1208.4v4.6M255.2 1215.8h4.6M257.5 1213.5v4.6M258 1225.6h4.6M260.3 1223.3v4.6M261.1 1241.4h4.6M263.4 1239.1v4.6M263.8 1259.2h4.6M266.1 1256.9v4.6M266.8 1273.1h4.6M269.1 1270.8v4.6" stroke="#333333" stroke-width="0.8" fill="none"/>
<text x="178.79" y="1152.73" font-size="12.6" fill="#1a1a1a" textLength="24.47" lengthAdjust="spacingAndGlyphs" stroke="#1a1a1a" stroke-width="0.35">J/Jo</text>
<text x="206.59" y="1156.43" font-size="12.6" fill="#1a1a1a" textLength="84.67" lengthAdjust="spacingAndGlyphs" stroke="#1a1a1a" stroke-width="0.35">Jo = 7.32E-01</text>
<text x="253.32" y="1168.03" font-size="12.6" fill="#1a1a1a" textLength="34.66" lengthAdjust="spacingAndGlyphs" stroke="#1a1a1a" stroke-width="0.35">(A/m)</text>
<text x="185.15" y="1166.03" font-size="12.6" fill="#1a1a1a" textLength="19.19" lengthAdjust="spacingAndGlyphs" stroke="#1a1a1a" stroke-width="0.35">1.0</text>
<text x="185.67" y="1222.63" font-size="12.6" fill="#1a1a1a" textLength="18.69" lengthAdjust="spacingAndGlyphs" stroke="#1a1a1a" stroke-width="0.35">0.5</text>
<text x="198.2" y="1287.23" font-size="12.6" fill="#1a1a1a" stroke="#1a1a1a" stroke-width="0.35">0</text>
<text x="262.72" y="1287.23" font-size="12.6" fill="#1a1a1a" textLength="22.3" lengthAdjust="spacingAndGlyphs" stroke="#1a1a1a" stroke-width="0.35">600</text>
<text x="270.18" y="1297.83" font-size="12.6" fill="#1a1a1a" textLength="15.44" lengthAdjust="spacingAndGlyphs" stroke="#1a1a1a" stroke-width="0.35">°C</text>
</svg></body></html>
